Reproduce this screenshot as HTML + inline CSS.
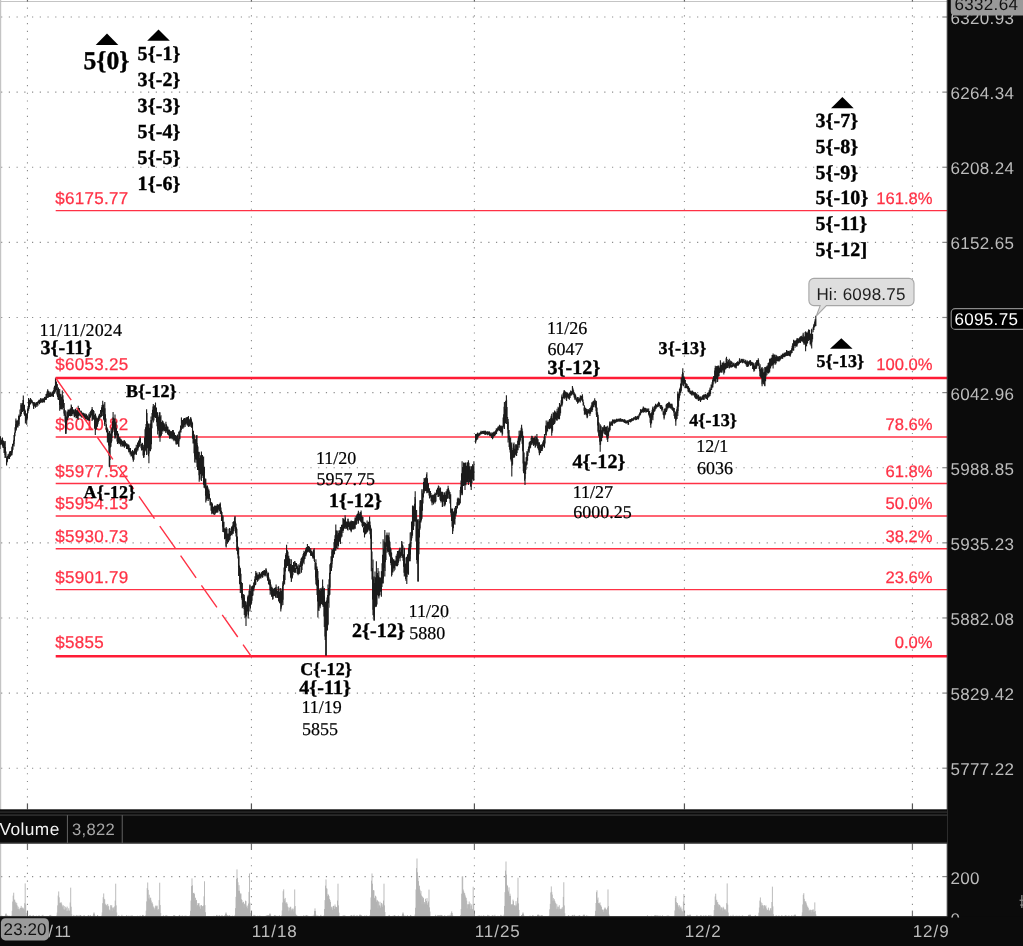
<!DOCTYPE html>
<html lang="en"><head><meta charset="utf-8"><title>Chart</title><style>html,body{margin:0;padding:0;background:#fff;overflow:hidden}body{width:1023px;height:946px}</style></head><body>
<svg width="1023" height="946" viewBox="0 0 1023 946" style="display:block;will-change:transform" text-rendering="geometricPrecision"><rect x="0" y="0" width="1023" height="946" fill="#fff"/>
<line x1="1.07" y1="17" x2="938.3" y2="17" stroke="#8c8c8c" stroke-width="1.1" stroke-dasharray="1.2 6.533" stroke-linecap="butt"/>
<line x1="1.07" y1="92.12" x2="938.3" y2="92.12" stroke="#8c8c8c" stroke-width="1.1" stroke-dasharray="1.2 6.533" stroke-linecap="butt"/>
<line x1="1.07" y1="167.24" x2="938.3" y2="167.24" stroke="#8c8c8c" stroke-width="1.1" stroke-dasharray="1.2 6.533" stroke-linecap="butt"/>
<line x1="1.07" y1="242.36" x2="938.3" y2="242.36" stroke="#8c8c8c" stroke-width="1.1" stroke-dasharray="1.2 6.533" stroke-linecap="butt"/>
<line x1="1.07" y1="317.48" x2="938.3" y2="317.48" stroke="#8c8c8c" stroke-width="1.1" stroke-dasharray="1.2 6.533" stroke-linecap="butt"/>
<line x1="1.07" y1="392.6" x2="938.3" y2="392.6" stroke="#8c8c8c" stroke-width="1.1" stroke-dasharray="1.2 6.533" stroke-linecap="butt"/>
<line x1="1.07" y1="467.72" x2="938.3" y2="467.72" stroke="#8c8c8c" stroke-width="1.1" stroke-dasharray="1.2 6.533" stroke-linecap="butt"/>
<line x1="1.07" y1="542.84" x2="938.3" y2="542.84" stroke="#8c8c8c" stroke-width="1.1" stroke-dasharray="1.2 6.533" stroke-linecap="butt"/>
<line x1="1.07" y1="617.96" x2="938.3" y2="617.96" stroke="#8c8c8c" stroke-width="1.1" stroke-dasharray="1.2 6.533" stroke-linecap="butt"/>
<line x1="1.07" y1="693.08" x2="938.3" y2="693.08" stroke="#8c8c8c" stroke-width="1.1" stroke-dasharray="1.2 6.533" stroke-linecap="butt"/>
<line x1="1.07" y1="768.2" x2="938.3" y2="768.2" stroke="#8c8c8c" stroke-width="1.1" stroke-dasharray="1.2 6.533" stroke-linecap="butt"/>
<line x1="27.45" y1="7.6" x2="27.45" y2="803" stroke="#8c8c8c" stroke-width="1.1" stroke-dasharray="1.2 6.533" stroke-linecap="butt"/>
<line x1="27.45" y1="857.4" x2="27.45" y2="910" stroke="#8c8c8c" stroke-width="1.1" stroke-dasharray="1.2 6.533" stroke-linecap="butt"/>
<line x1="251.43" y1="7.6" x2="251.43" y2="803" stroke="#8c8c8c" stroke-width="1.1" stroke-dasharray="1.2 6.533" stroke-linecap="butt"/>
<line x1="251.43" y1="857.4" x2="251.43" y2="910" stroke="#8c8c8c" stroke-width="1.1" stroke-dasharray="1.2 6.533" stroke-linecap="butt"/>
<line x1="474.4" y1="7.6" x2="474.4" y2="803" stroke="#8c8c8c" stroke-width="1.1" stroke-dasharray="1.2 6.533" stroke-linecap="butt"/>
<line x1="474.4" y1="857.4" x2="474.4" y2="910" stroke="#8c8c8c" stroke-width="1.1" stroke-dasharray="1.2 6.533" stroke-linecap="butt"/>
<line x1="684.43" y1="7.6" x2="684.43" y2="803" stroke="#8c8c8c" stroke-width="1.1" stroke-dasharray="1.2 6.533" stroke-linecap="butt"/>
<line x1="684.43" y1="857.4" x2="684.43" y2="910" stroke="#8c8c8c" stroke-width="1.1" stroke-dasharray="1.2 6.533" stroke-linecap="butt"/>
<line x1="912.43" y1="7.6" x2="912.43" y2="803" stroke="#8c8c8c" stroke-width="1.1" stroke-dasharray="1.2 6.533" stroke-linecap="butt"/>
<line x1="912.43" y1="857.4" x2="912.43" y2="910" stroke="#8c8c8c" stroke-width="1.1" stroke-dasharray="1.2 6.533" stroke-linecap="butt"/>
<line x1="1.07" y1="876.6" x2="938.3" y2="876.6" stroke="#8c8c8c" stroke-width="1.1" stroke-dasharray="1.2 6.533" stroke-linecap="butt"/>
<rect x="0" y="1" width="947.3" height="1" fill="#c4c4c4"/>
<rect x="0" y="0" width="1.2" height="917" fill="#c4c4c4"/>
<rect x="26.85" y="0" width="1.2" height="1.6" fill="#666"/>
<rect x="26.85" y="803.4" width="1.2" height="6" fill="#555"/>
<rect x="26.85" y="843.5" width="1.2" height="6.5" fill="#777"/>
<rect x="26.85" y="910.6" width="1.2" height="6" fill="#777"/>
<rect x="250.83" y="0" width="1.2" height="1.6" fill="#666"/>
<rect x="250.83" y="803.4" width="1.2" height="6" fill="#555"/>
<rect x="250.83" y="843.5" width="1.2" height="6.5" fill="#777"/>
<rect x="250.83" y="910.6" width="1.2" height="6" fill="#777"/>
<rect x="473.8" y="0" width="1.2" height="1.6" fill="#666"/>
<rect x="473.8" y="803.4" width="1.2" height="6" fill="#555"/>
<rect x="473.8" y="843.5" width="1.2" height="6.5" fill="#777"/>
<rect x="473.8" y="910.6" width="1.2" height="6" fill="#777"/>
<rect x="683.83" y="0" width="1.2" height="1.6" fill="#666"/>
<rect x="683.83" y="803.4" width="1.2" height="6" fill="#555"/>
<rect x="683.83" y="843.5" width="1.2" height="6.5" fill="#777"/>
<rect x="683.83" y="910.6" width="1.2" height="6" fill="#777"/>
<rect x="911.83" y="0" width="1.2" height="1.6" fill="#666"/>
<rect x="911.83" y="803.4" width="1.2" height="6" fill="#555"/>
<rect x="911.83" y="843.5" width="1.2" height="6.5" fill="#777"/>
<rect x="911.83" y="910.6" width="1.2" height="6" fill="#777"/>
<rect x="942.3" y="16.4" width="5" height="1.2" fill="#888"/>
<rect x="942.3" y="91.52" width="5" height="1.2" fill="#888"/>
<rect x="942.3" y="166.64" width="5" height="1.2" fill="#888"/>
<rect x="942.3" y="241.76" width="5" height="1.2" fill="#888"/>
<rect x="942.3" y="316.88" width="5" height="1.2" fill="#888"/>
<rect x="942.3" y="392" width="5" height="1.2" fill="#888"/>
<rect x="942.3" y="467.12" width="5" height="1.2" fill="#888"/>
<rect x="942.3" y="542.24" width="5" height="1.2" fill="#888"/>
<rect x="942.3" y="617.36" width="5" height="1.2" fill="#888"/>
<rect x="942.3" y="692.48" width="5" height="1.2" fill="#888"/>
<rect x="942.3" y="767.6" width="5" height="1.2" fill="#888"/>
<rect x="942.3" y="876" width="5" height="1.2" fill="#888"/>
<line x1="55.7" y1="210.6" x2="947.3" y2="210.6" stroke="#ff3145" stroke-width="1.4"/>
<text x="55.2" y="203.8" font-family="'Liberation Sans', sans-serif" font-size="17" font-weight="normal" fill="#ff3145" text-anchor="start" stroke="#ff3145" stroke-width="0.25" letter-spacing="0.3">$6175.77</text>
<text x="932.6" y="203.8" font-family="'Liberation Sans', sans-serif" font-size="16.6" font-weight="normal" fill="#ff3145" text-anchor="end" stroke="#ff3145" stroke-width="0.25">161.8%</text>
<line x1="55.7" y1="378" x2="947.3" y2="378" stroke="#ff1c36" stroke-width="2.6"/>
<text x="55.2" y="369.5" font-family="'Liberation Sans', sans-serif" font-size="17" font-weight="normal" fill="#ff3145" text-anchor="start" stroke="#ff3145" stroke-width="0.25" letter-spacing="0.3">$6053.25</text>
<text x="932.6" y="369.5" font-family="'Liberation Sans', sans-serif" font-size="16.6" font-weight="normal" fill="#ff3145" text-anchor="end" stroke="#ff3145" stroke-width="0.25">100.0%</text>
<line x1="55.7" y1="437" x2="947.3" y2="437" stroke="#ff3145" stroke-width="1.4"/>
<text x="55.2" y="430.2" font-family="'Liberation Sans', sans-serif" font-size="17" font-weight="normal" fill="#ff3145" text-anchor="start" stroke="#ff3145" stroke-width="0.25" letter-spacing="0.3">$6010.82</text>
<text x="932.6" y="430.2" font-family="'Liberation Sans', sans-serif" font-size="16.6" font-weight="normal" fill="#ff3145" text-anchor="end" stroke="#ff3145" stroke-width="0.25">78.6%</text>
<line x1="55.7" y1="483.5" x2="947.3" y2="483.5" stroke="#ff3145" stroke-width="1.4"/>
<text x="55.2" y="476.7" font-family="'Liberation Sans', sans-serif" font-size="17" font-weight="normal" fill="#ff3145" text-anchor="start" stroke="#ff3145" stroke-width="0.25" letter-spacing="0.3">$5977.52</text>
<text x="932.6" y="476.7" font-family="'Liberation Sans', sans-serif" font-size="16.6" font-weight="normal" fill="#ff3145" text-anchor="end" stroke="#ff3145" stroke-width="0.25">61.8%</text>
<line x1="55.7" y1="516" x2="947.3" y2="516" stroke="#ff3145" stroke-width="1.4"/>
<text x="55.2" y="509.2" font-family="'Liberation Sans', sans-serif" font-size="17" font-weight="normal" fill="#ff3145" text-anchor="start" stroke="#ff3145" stroke-width="0.25" letter-spacing="0.3">$5954.13</text>
<text x="932.6" y="509.2" font-family="'Liberation Sans', sans-serif" font-size="16.6" font-weight="normal" fill="#ff3145" text-anchor="end" stroke="#ff3145" stroke-width="0.25">50.0%</text>
<line x1="55.7" y1="548.8" x2="947.3" y2="548.8" stroke="#ff3145" stroke-width="1.4"/>
<text x="55.2" y="542" font-family="'Liberation Sans', sans-serif" font-size="17" font-weight="normal" fill="#ff3145" text-anchor="start" stroke="#ff3145" stroke-width="0.25" letter-spacing="0.3">$5930.73</text>
<text x="932.6" y="542" font-family="'Liberation Sans', sans-serif" font-size="16.6" font-weight="normal" fill="#ff3145" text-anchor="end" stroke="#ff3145" stroke-width="0.25">38.2%</text>
<line x1="55.7" y1="589.6" x2="947.3" y2="589.6" stroke="#ff3145" stroke-width="1.4"/>
<text x="55.2" y="582.8" font-family="'Liberation Sans', sans-serif" font-size="17" font-weight="normal" fill="#ff3145" text-anchor="start" stroke="#ff3145" stroke-width="0.25" letter-spacing="0.3">$5901.79</text>
<text x="932.6" y="582.8" font-family="'Liberation Sans', sans-serif" font-size="16.6" font-weight="normal" fill="#ff3145" text-anchor="end" stroke="#ff3145" stroke-width="0.25">23.6%</text>
<line x1="55.7" y1="656.3" x2="947.3" y2="656.3" stroke="#ff1c36" stroke-width="2.6"/>
<text x="55.2" y="647.8" font-family="'Liberation Sans', sans-serif" font-size="17" font-weight="normal" fill="#ff3145" text-anchor="start" stroke="#ff3145" stroke-width="0.25" letter-spacing="0.3">$5855</text>
<text x="932.6" y="647.8" font-family="'Liberation Sans', sans-serif" font-size="16.6" font-weight="normal" fill="#ff3145" text-anchor="end" stroke="#ff3145" stroke-width="0.25">0.0%</text>
<path d="M0 436.96V443.58M0.5 436.6V444.63M1 438.23V445.12M1.5 440.18V444.26M2 439.82V443.49M2.5 437.99V441.48M3 442.07V447.91M3.5 440.48V445.54M4 444.18V453.11M4.5 442.59V452.2M5 441.15V454.91M5.5 446.9V457.82M6 451.56V456.65M6.5 459.45V464.17M7 458.72V462.57M7.5 456.11V461.64M8 454.34V459.37M8.5 454.27V457.36M9 453.46V458.67M9.5 453.68V457.46M10 451.49V455.91M10.5 451.01V456.85M11 450.97V454.91M11.5 450.43V455.61M12 447.18V453.37M12.5 443.76V451.49M13 444.14V449.75M13.5 440.85V445.49M14 439.74V444.05M14.5 432.59V440.91M15 427.21V436.34M15.5 424.31V432.65M16 420.5V428.31M16.5 420.69V429.86M17 420.51V427.51M17.5 421.61V426.24M18 419.85V427.59M18.5 416.09V424.64M19 418.13V424.25M19.5 415.13V419.5M20 409.6V414.94M20.5 411.83V416.71M21 404.87V410.32M21.5 406.8V414.07M22 403.56V409.1M22.5 403.11V411.96M23 399.96V410.94M23.5 400.23V407.53M24 406.7V414.24M24.5 404.7V415.73M25 409.61V415.42M25.5 414.25V420.14M26 413.17V420.81M26.5 416.1V420.3M27 414.06V420.22M27.5 408.58V418.16M28 405.94V413.32M28.5 399.04V407.58M29 400.02V408.9M29.5 399.86V407.34M30 399.5V403.9M30.5 400.44V403.09M31 398.9V401.45M31.5 399.84V402.87M32 400.05V403.52M32.5 401.16V403.61M33 402.61V405.41M33.5 405.58V408.17M34 402.36V406.74M34.5 403.18V406.28M35 402.36V405.62M35.5 403.46V407.86M36 403.15V406.34M36.5 402.27V404.47M37 402.53V405.12M37.5 401.58V405.28M38 403.66V405.86M38.5 400.61V403.62M39 399.84V402.89M39.5 401.21V404.22M40 399.58V403.37M40.5 399.16V401.56M41 400.11V402.32M41.5 399.35V402.47M42 398.19V400.88M42.5 398.88V402.79M43 398.42V402.5M43.5 398.27V402.33M44 398.6V401.2M44.5 396.98V399.96M45 396.78V399.09M45.5 396.9V400.09M46 393.93V399.65M46.5 393.66V399.71M47 391.48V397.97M47.5 390.73V394.7M48 390.4V394.2M48.5 392.36V397.44M49 391.17V396.58M49.5 392.52V396.91M50 393.53V395.95M50.5 392.49V396.74M51 392.43V396.1M51.5 393.85V396.26M52 393.42V396.35M52.5 391.4V396.21M53 393.37V396.75M53.5 390.25V394.94M54 387.62V391.21M54.5 385.72V393.78M55 386.59V391.8M55.5 379.54V390.89M56 383.12V390.04M56.5 381.55V386.84M57 384.76V394.35M57.5 389.36V397.09M58 391.31V399.62M58.5 387.53V400.04M59 390.51V399.52M59.5 395.11V404.99M60 393.86V404.16M60.5 400.52V409.34M61 394.22V404.91M61.5 396.74V409.26M62 398.28V409.03M62.5 395.83V406.74M63 395.23V405.36M63.5 399.62V408.19M64 408.64V413.58M64.5 408.41V414.93M65 409.96V422.41M65.5 414.68V425.41M66 417.21V430.52M66.5 416.53V424.07M67 412.37V419.61M67.5 411.62V420.26M68 412.18V417.68M68.5 409.71V416.97M69 409.77V416M69.5 410.04V416.07M70 408.84V414.82M70.5 409.94V416.28M71 407.98V415.71M71.5 405.59V414.41M72 409.6V416.08M72.5 406.98V414.34M73 409.85V413.69M73.5 409.54V412.93M74 412.34V415.49M74.5 411.39V417.1M75 412.46V416.24M75.5 408.86V415.21M76 410.25V418.21M76.5 413.16V418.32M77 409.58V416.11M77.5 408.38V418.85M78 409.24V415.17M78.5 408.01V415.93M79 409.13V414.54M79.5 407.9V415.39M80 410.29V416.18M80.5 411.23V414.31M81 411.6V416.21M81.5 414.78V417.27M82 413V417.61M82.5 412.62V415.22M83 415.04V417.45M83.5 412.73V415.8M84 415.22V418.73M84.5 413.42V418.07M85 416.64V419.34M85.5 415.1V419.11M86 413.63V416.27M86.5 414.33V418.91M87 417.35V420.07M87.5 415.38V420.01M88 417.14V420.04M88.5 417.31V420.21M89 414.51V418.83M89.5 415.45V420.76M90 411.98V416.65M90.5 411.32V417.76M91 410.39V415.2M91.5 409.83V414.72M92 409.3V416.24M92.5 409.06V419.66M93 409.98V419.5M93.5 409.95V418.95M94 410.95V419.75M94.5 415.09V428.82M95 418.28V427.62M95.5 413.93V430.36M96 415.76V429.61M96.5 419.56V429.43M97 417.38V425.38M97.5 418.16V426.82M98 418.59V424.18M98.5 416.17V422.2M99 415.64V419.35M99.5 413.65V416.49M100 415.01V418.39M100.5 410.04V414.74M101 412.88V417.3M101.5 407.31V416.69M102 405.08V411.72M102.5 404.91V412.23M103 405.07V412.23M103.5 410.49V419.44M104 403.68V420.39M104.5 413.41V424.16M105 408.17V419.84M105.5 414.36V422.04M106 418.39V429.6M106.5 424.22V432.12M107 427.13V432.75M107.5 432.31V438.34M108 429.57V437.23M108.5 432.81V445.49M109 436.42V455.63M109.5 437.92V463.1M110 438.67V460.02M110.5 433.38V447.51M111 429.25V446.72M111.5 431.17V442.78M112 432.44V437.88M112.5 421.32V433.15M113 417.21V428.65M113.5 418.04V425.76M114 420.11V432.07M114.5 418.87V435.08M115 422.62V437.84M115.5 422.84V437.63M116 421.49V430.65M116.5 428.08V435.41M117 435.22V441.41M117.5 434.1V442.06M118 435.11V442.93M118.5 433.45V440.03M119 436.78V444.36M119.5 437.97V443.64M120 437.29V443.1M120.5 438.91V444.46M121 440.14V443.13M121.5 439.6V444.85M122 441.53V446.8M122.5 440.71V445.12M123 441.88V446.22M123.5 441.25V446.56M124 440.34V445.2M124.5 441.48V444.64M125 441.57V446.77M125.5 441.43V446.03M126 443.12V445.99M126.5 444.09V449.05M127 443.61V448.57M127.5 444.78V449.21M128 444.27V448.52M128.5 444.74V450.44M129 446.27V452.33M129.5 447.9V450.81M130 448.39V454.53M130.5 447.96V452.92M131 452.33V456.51M131.5 451.31V455.69M132 451.97V456.23M132.5 449.91V458.23M133 451.75V459.75M133.5 452.11V460.59M134 454.55V459.64M134.5 448.45V454.74M135 450.7V454.55M135.5 447.75V453.71M136 447.44V451.85M136.5 448.62V453.81M137 448.13V451.8M137.5 442.45V449.96M138 442.55V450.4M138.5 440.57V448.23M139 440.62V445.82M139.5 438.74V446.68M140 438.55V443.6M140.5 437.96V442.87M141 444.05V448.35M141.5 445.19V450.62M142 442.64V448.12M142.5 443.07V450.23M143 448.85V455.51M143.5 446.82V456.79M144 446.42V457.2M144.5 437.51V455.12M145 429.27V448.52M145.5 427.28V450.62M146 423.97V451.61M146.5 411.54V433.55M147 412.99V448.18M147.5 421.29V446.29M148 433.78V454.59M148.5 423.44V456.16M149 427.63V453.44M149.5 427.65V450.75M150 423.57V439.28M150.5 435.6V451.28M151 419.91V439.28M151.5 420.99V444.34M152 413.07V428.31M152.5 409.77V420.39M153 406.62V417.23M153.5 406.38V414.99M154 409.45V420.39M154.5 405.29V417.17M155 406.72V415.6M155.5 405.03V413.24M156 407.66V414.24M156.5 407.42V422.3M157 414.3V426.15M157.5 412.46V428.8M158 415.17V426.39M158.5 417.24V430.71M159 416.7V437.78M159.5 412.35V433.66M160 425.33V436.42M160.5 416.55V436.85M161 415.24V429.72M161.5 425.14V435.76M162 421.91V434.01M162.5 420.41V430.94M163 421.98V426.25M163.5 424.03V430.36M164 422.88V431.34M164.5 424.25V431.33M165 424.14V430.35M165.5 427.05V431.21M166 427.43V432.59M166.5 424.25V431.29M167 425.76V430.12M167.5 427.8V434.39M168 426.86V430.89M168.5 429.77V435.47M169 429.62V434.56M169.5 429.81V435.45M170 432.07V436.54M170.5 431.17V438.52M171 431.04V438.22M171.5 431.26V435.74M172 431.36V439.2M172.5 430.11V435.11M173 432.82V438.82M173.5 431.58V437.22M174 434.49V441.14M174.5 432.62V437.13M175 435.39V440.28M175.5 435.07V441.3M176 437.31V443.85M176.5 436.21V441.92M177 435.22V444M177.5 434.47V443.41M178 438.37V444.54M178.5 439.08V446.32M179 432.03V441.14M179.5 431.37V438.26M180 429.76V439.28M180.5 425.52V431.37M181 426.55V432.54M181.5 417.79V423.11M182 420.39V425.05M182.5 419.89V428.8M183 421V428.69M183.5 418.48V426.8M184 423.05V427.53M184.5 417.99V424.73M185 419.14V425.19M185.5 419.18V424.11M186 417.44V421.63M186.5 418.89V423.72M187 417.04V425.21M187.5 416.9V425.36M188 420.4V426.08M188.5 417.21V425.36M189 419.39V423.5M189.5 421.04V426.61M190 418.87V423.43M190.5 417.18V424.82M191 420.92V426.19M191.5 419.27V427.68M192 421.41V426.68M192.5 423.5V436.19M193 430.41V443.62M193.5 431.05V442.06M194 434V453.13M194.5 443.73V456.45M195 438.83V453.03M195.5 449.02V459.53M196 439.16V462.64M196.5 435.16V459.78M197 443.1V458.06M197.5 444.91V470.07M198 446.4V463.03M198.5 453.35V470.29M199 451.8V475.26M199.5 458.01V479.59M200 457.89V479.75M200.5 455.23V474.15M201 456.83V471.83M201.5 452.29V473.55M202 464.89V478.05M202.5 454.98V468.65M203 465.02V475.73M203.5 469.9V484.26M204 466.94V487.86M204.5 466.83V479.5M205 478.24V488.47M205.5 479.18V495.86M206 484.58V495.29M206.5 486.23V499.73M207 487.71V501.04M207.5 485.38V496.67M208 487.54V498.72M208.5 490V498.06M209 490.79V499.05M209.5 493.83V499.42M210 500.46V505.54M210.5 498.18V505.56M211 504.31V510.71M211.5 502.28V509.28M212 504.74V513.27M212.5 503.41V512.61M213 507.46V513.76M213.5 506.63V514.48M214 506.55V510.38M214.5 506.28V510.33M215 506.33V514.02M215.5 505.77V513.16M216 505.8V512.82M216.5 508.25V512.63M217 504.52V511.67M217.5 506.1V511.72M218 505.65V509.86M218.5 504.68V508.81M219 506.48V511.39M219.5 503.71V510.89M220 505.05V509.24M220.5 504.26V512.46M221 507.39V514.04M221.5 510.73V521.04M222 512.08V517.99M222.5 517.76V526.54M223 516.43V527.56M223.5 524.52V532.15M224 521.68V531.59M224.5 529.94V539.27M225 528.21V537.85M225.5 528.47V538.77M226 531.18V546.48M226.5 528.93V539.32M227 528.39V541.29M227.5 537.39V543.71M228 533.47V542.5M228.5 533.73V542M229 528.8V536.79M229.5 532.45V537.16M230 531.22V539.41M230.5 531.03V536M231 528.44V534.95M231.5 526.62V531.81M232 528.22V535.44M232.5 526.33V531.22M233 525.08V533.69M233.5 521.34V526.77M234 521.47V531.24M234.5 517.78V525.08M235 517.06V527.12M235.5 521.48V533.27M236 523.47V536.48M236.5 527.34V541.76M237 538.46V550.63M237.5 536.51V554.5M238 546.49V558.57M238.5 550.65V567.53M239 556.19V567.78M239.5 565.53V584.15M240 573.16V582.96M240.5 569.5V587.42M241 573.78V592.64M241.5 581.89V597.97M242 583.34V599.75M242.5 590.54V604.26M243 593.92V607.01M243.5 594.23V606.84M244 601.13V608.93M244.5 597.53V609.7M245 602.46V618.13M245.5 601.29V614.57M246 602.61V616.76M246.5 606.04V616.23M247 604.79V614.49M247.5 597.26V611.5M248 596V611.51M248.5 598.63V615.57M249 590.5V605.53M249.5 591.02V606.54M250 585.43V606.48M250.5 590.94V608.61M251 590.76V605.02M251.5 595.66V603.52M252 591.76V600.76M252.5 585.39V595.88M253 587.1V595.41M253.5 585.41V589.14M254 582.12V588.44M254.5 579.37V587.27M255 576.2V584.67M255.5 577.61V585.19M256 572.95V578.99M256.5 572.79V580.12M257 572.62V576.95M257.5 577.07V581.67M258 574.43V580.97M258.5 575.61V579.48M259 574.32V577.61M259.5 572.76V577.68M260 572.67V578.31M260.5 573.96V578.53M261 575.64V578.57M261.5 572.27V576.85M262 571.66V576.71M262.5 571.75V577.32M263 573.2V576.82M263.5 570.88V574.81M264 570.07V575.05M264.5 570.08V575.38M265 571.72V576.49M265.5 570.69V575.34M266 568.51V572.29M266.5 570.12V573.27M267 571.61V577.57M267.5 574.69V580.73M268 573.31V577.95M268.5 572.79V580.65M269 577.62V582.27M269.5 579.62V585.28M270 583.34V590.2M270.5 581.63V590.97M271 584.59V593.72M271.5 591.19V596.86M272 586.63V592.64M272.5 591.91V596.79M273 589.93V599.02M273.5 588.66V595.3M274 591.78V596.31M274.5 587.89V595.71M275 587.66V596.12M275.5 587.21V597.59M276 591.04V597.38M276.5 589.38V594.59M277 586.73V594.41M277.5 592.43V598.01M278 591.05V596.45M278.5 586.68V598.67M279 592.19V599.74M279.5 591.86V602.91M280 588.34V603.42M280.5 591.12V602.4M281 600.32V609.35M281.5 590.46V607.48M282 596.84V605.43M282.5 585.77V602.41M283 583.12V599.81M283.5 574.81V586.08M284 567.48V579.06M284.5 569.71V582.72M285 563.06V579.99M285.5 554.74V571.42M286 553.09V567.63M286.5 548.86V565.5M287 553.95V564.31M287.5 550.14V566.02M288 551.86V565.63M288.5 556.3V564.09M289 560.52V571.62M289.5 558.43V570.62M290 558.89V573.3M290.5 567.91V577.48M291 564.1V578.33M291.5 566.54V581.3M292 566.86V578.69M292.5 564.98V577.86M293 565.55V575.26M293.5 562.12V571.88M294 565.3V571.74M294.5 567.65V572.58M295 561.38V566.38M295.5 568.07V572.82M296 562.98V568.95M296.5 563V567.24M297 565.49V573.13M297.5 566.32V573.9M298 568.17V572.47M298.5 567.94V574M299 565.34V574.27M299.5 568.23V573.2M300 563.26V573.68M300.5 561.2V566.91M301 558.8V564.8M301.5 560.59V571.99M302 560.42V570.11M302.5 556.24V565.71M303 554.25V560.03M303.5 552.89V562.75M304 553.54V560.43M304.5 551.79V556.54M305 553.14V559.05M305.5 549.45V555.44M306 547.8V556.27M306.5 547.27V554.62M307 547.12V550.49M307.5 546.97V551.66M308 547.54V551.83M308.5 546.05V551M309 546.15V552.22M309.5 546.95V552.78M310 548.22V551.03M310.5 550V555.45M311 550.67V553.53M311.5 551.05V556.12M312 550.78V554.96M312.5 552.26V557.53M313 553.55V558.78M313.5 549.47V555.19M314 550.17V558.62M314.5 555.75V561.88M315 562.25V569.67M315.5 562.24V577.5M316 563.09V580.26M316.5 568.44V585.72M317 566.42V594.9M317.5 568.89V601.39M318 578.27V598.88M318.5 580.08V610.54M319 593.22V611.05M319.5 590.08V602.88M320 593.61V606.55M320.5 590.63V605.49M321 588.4V599.88M321.5 594.32V604.29M322 587.55V603.6M322.5 586.05V597.09M323 586.2V606.66M323.5 592.75V606.36M324 588.52V616.54M324.5 596.36V614.58M325 605.61V636.44M325.5 601.93V623.29M326 610.78V636.37M326.5 600.53V630.93M327 597.43V621.59M327.5 594.96V630.49M328 607.78V624.29M328.5 587.9V603.32M329 579.16V607.79M329.5 572.86V595.55M330 573.99V587.42M330.5 562.99V573.99M331 556.26V569.17M331.5 559.66V571.09M332 551.59V564.2M332.5 549.56V561.21M333 550.7V558.02M333.5 548.35V557.39M334 542.36V554.7M334.5 543.18V552.67M335 535.34V546.1M335.5 534.23V550.61M336 530.15V548.36M336.5 530.53V548.24M337 531.43V545.6M337.5 535.67V545.62M338 534.75V542.23M338.5 533.11V546.19M339 530.4V542M339.5 531.73V541.47M340 530.02V541.16M340.5 531.82V543.17M341 530.85V538.19M341.5 524.81V536.38M342 527.59V536.79M342.5 524.62V530.41M343 524.48V530.96M343.5 518.81V530.4M344 521.48V527.29M344.5 519.89V528.4M345 518.86V527M345.5 517.47V527.37M346 521.83V528.99M346.5 521.58V527.39M347 521.78V528.49M347.5 524.97V530.01M348 518.92V525.1M348.5 521.3V527.04M349 522.29V526.61M349.5 523.12V529.65M350 521.22V527.38M350.5 524.7V530.17M351 521.58V530.93M351.5 525.25V530.68M352 520.91V527.25M352.5 524.65V529.55M353 520.96V529.5M353.5 521.35V528.04M354 524.17V529.54M354.5 521.32V527.34M355 519.87V528.34M355.5 517.89V524.64M356 516.04V523.35M356.5 515.59V524.64M357 514.34V523.64M357.5 514.04V520.76M358 512.63V519.76M358.5 516.76V521.44M359 512.31V518.55M359.5 513.65V519.91M360 514.05V520.93M360.5 511.97V520.03M361 512.59V521.99M361.5 518.04V522.79M362 515.79V525.71M362.5 521.64V527.27M363 517.12V526.07M363.5 527.4V532.59M364 521.79V531.53M364.5 523.59V529.77M365 527.99V534.79M365.5 522.67V529.88M366 523.67V533.94M366.5 527.3V532.81M367 524.02V531.66M367.5 523.55V531.7M368 522.04V531.22M368.5 523.27V529.22M369 521.43V529.71M369.5 522.06V530.04M370 521.49V534.34M370.5 525.23V538.85M371 527.68V549.6M371.5 535.28V560.51M372 551.43V579.48M372.5 568.05V599.57M373 589.38V609.64M373.5 578.7V607.97M374 586.49V617.1M374.5 582.99V606.53M375 571.54V607.29M375.5 577.34V606.69M376 581.28V598.19M376.5 575.23V605.46M377 583.34V604.42M377.5 573V595.28M378 567.92V594.02M378.5 575.5V596.26M379 582.58V596.52M379.5 577.27V591.38M380 579.39V595.24M380.5 577.45V589.33M381 577.64V591.87M381.5 571.43V591.04M382 563.32V586.99M382.5 554.68V576.83M383 558.12V583.56M383.5 548.98V578.46M384 541.29V564.5M384.5 545.11V568.03M385 542.17V570.93M385.5 547.84V562.28M386 535.35V560.07M386.5 536.7V546.75M387 534.86V542.22M387.5 535.13V551.37M388 538.03V552.04M388.5 535.32V552.12M389 537.31V551.47M389.5 540.56V555.75M390 541.78V557.03M390.5 547.62V562.94M391 548.7V565.27M391.5 552.41V562.89M392 559.44V575.05M392.5 557.57V570.42M393 560.01V572.59M393.5 559.31V568.38M394 561.82V567.95M394.5 561.1V567.28M395 561.35V569.69M395.5 560.62V565.72M396 555.77V560.97M396.5 555.69V566.15M397 553.69V565.26M397.5 554.75V560.36M398 555.49V564.94M398.5 550.99V562.82M399 549.67V557.49M399.5 549.37V558.47M400 547.82V553.62M400.5 551.81V556.88M401 551.88V557.92M401.5 549.52V555.53M402 541.86V548.88M402.5 544.44V557.81M403 545.54V560.85M403.5 557.33V566.73M404 554.15V572.83M404.5 549.24V569.07M405 557.5V575.67M405.5 563.53V579.25M406 568.19V581.06M406.5 556.68V574.96M407 567.45V577.09M407.5 554.2V573.72M408 560.37V573.84M408.5 560.8V572.58M409 543.89V559.95M409.5 546.3V561.14M410 542.68V558.74M410.5 542.14V554.52M411 531.96V547.44M411.5 521.49V540.79M412 522.2V538.35M412.5 510.3V534.46M413 506.15V524.99M413.5 518.23V529.98M414 505.48V526.15M414.5 503.86V519.34M415 497.11V521.5M415.5 499.16V521.04M416 518.3V541.4M416.5 524.19V550.1M417 529.74V563.72M417.5 519.72V561.82M418 528.69V550.97M418.5 529.19V559.83M419 520.38V554.28M419.5 523.45V537.47M420 506.51V528.23M420.5 500.06V518.54M421 500.29V522.61M421.5 500.5V520.58M422 490.22V505.7M422.5 494.48V510.69M423 493.19V503.57M423.5 482.11V497.5M424 482.46V492.74M424.5 478.6V487.91M425 482.9V491.13M425.5 477.41V490.63M426 483.38V491.1M426.5 474.37V488.88M427 479.74V492.7M427.5 478.15V492.43M428 483.07V492.64M428.5 483.58V490.04M429 489.96V495.44M429.5 490.95V496.38M430 491.95V497.55M430.5 491.12V495.51M431 492.88V501.26M431.5 497.33V501.51M432 495.28V502.65M432.5 496.05V502.6M433 494.41V500.67M433.5 500.44V504.42M434 494.72V502.86M434.5 494.11V500.85M435 493.92V501.82M435.5 493.28V502.07M436 493.3V501.49M436.5 489.64V494.97M437 489.48V494.56M437.5 487.65V492.15M438 490.04V497.04M438.5 490.18V496.74M439 486.17V495.51M439.5 488.31V496.25M440 494.29V499.69M440.5 491.48V497.93M441 493.31V502.46M441.5 491.77V501.42M442 492.12V500.56M442.5 494.78V506.91M443 492.3V499.13M443.5 494.8V501.72M444 495.16V506.15M444.5 492.58V502.92M445 494.79V504.63M445.5 495.63V504.5M446 491.25V496.39M446.5 492.67V502M447 489.31V498.06M447.5 490.61V498.75M448 488.44V493.64M448.5 487.97V494.48M449 489.75V498.32M449.5 491.53V498.99M450 492.01V503.44M450.5 494.65V507.17M451 507.85V515.26M451.5 511.06V520.96M452 509.04V526.68M452.5 514.29V524.92M453 521.69V531.37M453.5 511.79V528.29M454 511.08V522.57M454.5 510.23V523.81M455 508.26V519.05M455.5 506.03V513.09M456 506.11V515.68M456.5 508.11V513.47M457 502.37V507.77M457.5 499.77V504.19M458 497.6V505.7M458.5 498.33V503.35M459 499.04V505.16M459.5 499.44V504.69M460 497.94V503.1M460.5 486.63V497.84M461 480.53V493.35M461.5 473.18V486.3M462 478.04V495.31M462.5 466.94V493.86M463 467.19V480.03M463.5 462.42V486.03M464 464.95V485.37M464.5 462.69V485.58M465 465.38V485.2M465.5 462.55V473.89M466 465.71V485.29M466.5 468.03V479.61M467 462.6V482.58M467.5 462.3V478.04M468 471.29V482.32M468.5 462.03V478.91M469 462.87V472.55M469.5 466.98V482.5M470 466.28V477.98M470.5 470.87V486.22M471 469.57V486.99M471.5 466.56V477.05M472 467.53V483M472.5 464.21V478.91M473 464.72V479.6M473.5 466.18V480.65M475.6 434.16V439.62M476.1 434.61V441.39M476.6 433.81V439.98M477.1 436.35V439.7M477.6 433.01V436.67M478.1 433.98V437.37M478.6 433.85V436.05M479.1 432.88V435.91M479.6 433.35V435.55M480.1 432.15V435.34M480.6 432.11V434.31M481.1 431.71V433.91M481.6 432.17V434.37M482.1 431.06V433.96M482.6 431.5V433.73M483.1 430.73V433.06M483.6 430.87V434.05M484.1 430.73V432.93M484.6 432.37V434.57M485.1 430.65V432.85M485.6 431.03V433.96M486.1 432.18V434.38M486.6 431.82V434.48M487.1 431.22V434.13M487.6 431.92V435.15M488.1 431.33V433.53M488.6 432.28V434.76M489.1 431.71V433.91M489.6 431.89V434.24M490.1 433.25V436.24M490.6 433.58V435.79M491.1 432.3V436.23M491.6 433.63V438.08M492.1 433.54V437.02M492.6 433.19V438.25M493.1 434.61V438.22M493.6 431.81V436.5M494.1 431.77V434.79M494.6 432.8V436.33M495.1 431.05V435.56M495.6 430.34V434.79M496.1 430.31V432.6M496.6 428.99V433.71M497.1 428.68V431.48M497.6 427.61V431.45M498.1 426.51V430.07M498.6 427.14V430.44M499.1 425.82V428.02M499.6 425.69V430.44M500.1 425.86V431.17M500.6 426.93V432.43M501.1 425.39V431.77M501.6 426.33V432.31M502.1 426.56V433.24M502.6 426.15V434.17M503.1 417.51V428.5M503.6 414.24V426.74M504.1 406.67V426.36M504.6 410.11V423.71M505.1 409.22V420.7M505.6 400.81V423.27M506.1 403.09V416.89M506.6 399.64V416.72M507.1 407V418.14M507.6 417.1V429.58M508.1 421.83V433.5M508.6 430.27V439.63M509.1 429.9V447.08M509.6 435.63V449.74M510.1 442.47V452.58M510.6 442.66V455.24M511.1 444.15V461.42M511.6 445.58V461.59M512.1 451.22V465.66M512.6 449.94V464.44M513.1 447.7V456.04M513.6 443.68V457.74M514.1 445.51V454.79M514.6 450.24V457.32M515.1 448.68V455.5M515.6 444.14V449.82M516.1 445.28V454.76M516.6 447.1V451.68M517.1 445.71V452.93M517.6 440.7V446.4M518.1 438.33V450.29M518.6 436.48V443.36M519.1 436.19V445.06M519.6 434.41V444.8M520.1 430.41V441.69M520.6 430.38V440.47M521.1 427.85V437.47M521.6 427.31V436.47M522.1 428.58V443.73M522.6 431.3V451.16M523.1 440.04V463.41M523.6 453.5V473.19M524.1 452.47V471.13M524.6 461.68V480.76M525.1 463.86V478.7M525.6 462.23V473.97M526.1 457.22V469.79M526.6 457.03V465.46M527.1 452.62V459.84M527.6 451.7V460.83M528.1 448.96V455.95M528.6 446.76V451.67M529.1 446.37V450.74M529.6 441.88V448.06M530.1 440.92V448.39M530.6 440.89V447.8M531.1 437.99V445.15M531.6 439.81V444.6M532.1 436.07V439.28M532.6 437.56V443.32M533.1 437.44V445.12M533.6 439.83V446.09M534.1 438.05V444.5M534.6 437.23V444.86M535.1 439.14V445.33M535.6 440.8V447M536.1 436.96V444.94M536.6 437.05V441.87M537.1 437.84V444.35M537.6 440.49V448.06M538.1 439.35V449.23M538.6 443.28V450.28M539.1 442.37V452.68M539.6 446.69V454.06M540.1 445.04V449.88M540.6 444.96V452.91M541.1 444.14V449.28M541.6 445.27V450.99M542.1 445.4V450.73M542.6 442.39V448.96M543.1 441.22V445.49M543.6 439.92V446.6M544.1 436.94V442.53M544.6 436.2V445.1M545.1 436.06V443.46M545.6 425.58V435.13M546.1 426.76V435.05M546.6 425.42V432.73M547.1 422.82V427.82M547.6 421.81V431.55M548.1 420.42V428.61M548.6 421.98V428.74M549.1 422.69V427.86M549.6 422.86V429.3M550.1 419.57V427.9M550.6 417.82V424.49M551.1 415.77V429.08M551.6 416.21V424.92M552.1 420.19V432.7M552.6 418.35V430.8M553.1 412.3V419.27M553.6 413.09V424.88M554.1 412.64V423.01M554.6 412.44V418.39M555.1 417.19V422.56M555.6 411.43V419.52M556.1 411.53V418.63M556.6 415.78V420.46M557.1 413.01V420.42M557.6 411.04V418.19M558.1 406.7V413.17M558.6 407.81V419.28M559.1 410.85V418.66M559.6 403.94V415.72M560.1 406.18V415.83M560.6 404.74V413.13M561.1 400.16V406.48M561.6 396.51V405.16M562.1 399.33V405.23M562.6 396.91V403.39M563.1 393.21V398.16M563.6 392.15V397.32M564.1 390.81V398.26M564.6 390.85V396.45M565.1 392.26V397.73M565.6 391.59V396.49M566.1 396.07V399.8M566.6 393.24V397.88M567.1 393.64V397.47M567.6 392.57V396.41M568.1 393.42V398.63M568.6 395.63V398.85M569.1 393.88V396.75M569.6 392.58V397.77M570.1 393.84V397.9M570.6 390.4V395.82M571.1 391.58V395.57M571.6 391.33V395.51M572.1 390.86V394.53M572.6 387.37V392.13M573.1 388.62V392.95M573.6 390.34V395.27M574.1 392.21V397.46M574.6 393.61V396.98M575.1 394.35V398.36M575.6 394.69V399.54M576.1 396.55V400.41M576.6 398.37V401.56M577.1 398.41V402.01M577.6 397.8V402.02M578.1 397.01V400.68M578.6 399.71V402.72M579.1 398.44V401.89M579.6 398.22V401.01M580.1 397.32V400.89M580.6 395.63V399.01M581.1 395.84V399.28M581.6 397.6V400.46M582.1 395.82V399.19M582.6 396.53V402.1M583.1 399.62V405.61M583.6 402.15V405.71M584.1 407.43V410.83M584.6 406.61V412.9M585.1 409V414.14M585.6 407.69V413.99M586.1 408.5V415.34M586.6 409V414.86M587.1 413.93V417.62M587.6 410.99V417.12M588.1 409.05V412.33M588.6 409.53V413.24M589.1 409.92V414.12M589.6 409.66V412.79M590.1 407.89V413.34M590.6 407.32V413.79M591.1 405.47V411.68M591.6 406.26V411.48M592.1 402.25V407.2M592.6 403.28V409.97M593.1 400.92V405.09M593.6 401.17V407.19M594.1 400.34V403.21M594.6 401.71V404.59M595.1 403.26V407.18M595.6 400.15V407.67M596.1 402.36V411.03M596.6 406.88V416.94M597.1 407.85V415.42M597.6 412.37V425.59M598.1 417.31V431.34M598.6 421.99V436.05M599.1 422.83V437.34M599.6 432.15V441.64M600.1 429.95V444.96M600.6 425.52V444.48M601.1 425.81V440M601.6 430.31V441.13M602.1 430.29V435.92M602.6 428V436.48M603.1 427.18V433.31M603.6 427.8V431.5M604.1 426.03V431.02M604.6 425.71V430.52M605.1 427.42V434.72M605.6 426.78V432.3M606.1 427.68V435.36M606.6 426.5V437.55M607.1 432.28V439.78M607.6 430.92V437.8M608.1 430.85V438.57M608.6 427.79V435.96M609.1 427.19V432.29M609.6 423.48V429.79M610.1 423.48V429.97M610.6 422.37V425.88M611.1 421.32V425.48M611.6 421.43V424.26M612.1 422.38V425.39M612.6 419.78V423.26M613.1 420.73V423.69M613.6 419.75V422.63M614.1 419.17V421.37M614.6 419.81V423.74M615.1 420.79V422.99M615.6 419.41V422.79M616.1 419.67V421.87M616.6 418.97V421.17M617.1 418.7V420.9M617.6 419.14V421.86M618.1 419.72V421.97M618.6 418.8V421.08M619.1 418.4V420.6M619.6 419.56V421.76M620.1 418.54V421.09M620.6 419.08V421.28M621.1 419.12V421.67M621.6 419.64V421.84M622.1 419.3V421.85M622.6 418.89V421.09M623.1 419.25V421.81M623.6 419.84V422.04M624.1 420.46V422.66M624.6 419.23V421.43M625.1 420.42V422.67M625.6 420.37V423.18M626.1 420.61V423.72M626.6 420.73V423.19M627.1 420.57V422.77M627.6 420.21V423.08M628.1 420.43V423.65M628.6 421.93V424.54M629.1 419.57V421.77M629.6 419.73V422.1M630.1 419.09V421.87M630.6 419.61V422.46M631.1 418.92V421.52M631.6 419.08V421.28M632.1 418.48V420.68M632.6 418.27V420.47M633.1 418.44V420.88M633.6 417.31V420.22M634.1 417.62V419.82M634.6 417.18V419.6M635.1 416.39V418.59M635.6 417.01V419.21M636.1 416.72V420.03M636.6 416.84V419.95M637.1 416.25V419.54M637.6 415.69V418.7M638.1 416.32V419.07M638.6 416.23V418.43M639.1 414.01V417.59M639.6 412.54V415.71M640.1 412.71V415.38M640.6 409.75V411.95M641.1 409.52V413.26M641.6 410.47V412.75M642.1 409.29V412.41M642.6 408.63V411.94M643.1 407.63V411.43M643.6 407.3V409.79M644.1 407.65V412.1M644.6 409.98V412.25M645.1 407.7V410.21M645.6 408.19V411.22M646.1 409.04V411.88M646.6 409.62V411.98M647.1 409.79V411.99M647.6 408.48V411.99M648.1 408.64V411.82M648.6 410.86V414.26M649.1 411.63V416.33M649.6 410.98V417.79M650.1 413.34V422.77M650.6 419.6V425.1M651.1 413.53V421.21M651.6 412.34V423.62M652.1 409.67V419.65M652.6 407.71V417.6M653.1 408.89V415.03M653.6 410.15V414.4M654.1 406.93V411.54M654.6 405.94V411.8M655.1 405.31V410.7M655.6 404.54V408.73M656.1 404.47V408.68M656.6 405.31V407.61M657.1 404.65V407.31M657.6 403.76V407.15M658.1 403.04V405.24M658.6 403.07V406.42M659.1 402.33V405.72M659.6 403.01V406.19M660.1 404.98V408.1M660.6 406.75V408.95M661.1 404.97V408.51M661.6 406.41V408.83M662.1 406.8V411.42M662.6 406.83V409.79M663.1 411.46V414.83M663.6 411.27V415.37M664.1 412.85V417.88M664.6 408.81V414.05M665.1 408.21V415.35M665.6 408.2V414.26M666.1 404.74V411.54M666.6 404.3V408.5M667.1 406.03V410.58M667.6 402.91V408.21M668.1 405.52V408.57M668.6 402.79V407.13M669.1 402.25V405.84M669.6 402.79V407.43M670.1 403.42V408.14M670.6 404.09V406.54M671.1 406.19V409.04M671.6 403.63V407.54M672.1 405.27V408.03M672.6 406.63V410.53M673.1 407.13V411.03M673.6 409.77V412.58M674.1 407.98V412.19M674.6 413.26V418.87M675.1 411.34V415.7M675.6 412.7V421.42M676.1 412.87V420.32M676.6 409.14V417.82M677.1 406.57V419.1M677.6 393.7V412.89M678.1 397.47V411.04M678.6 393.42V406.78M679.1 392.26V400.82M679.6 389.37V394.56M680.1 387.5V395.51M680.6 383.39V393.09M681.1 383.58V390.31M681.6 377.65V387.85M682.1 374.37V384.59M682.6 372.12V382.4M683.1 373.08V379.32M683.6 379.1V386.32M684.1 376.53V383.7M684.6 378.37V383.3M685.1 380.07V384.53M685.6 385.19V388.08M686.1 383.24V387.57M686.6 383.59V388.13M687.1 384V387.05M687.6 385.75V389.07M688.1 386.77V391.17M688.6 386.89V391.74M689.1 387.81V392.52M689.6 388.28V390.62M690.1 390.36V393.98M690.6 390.91V393.87M691.1 391.55V394.63M691.6 391.57V393.77M692.1 390.88V395M692.6 390.87V393.48M693.1 391.91V394.34M693.6 391.72V395.62M694.1 392.11V395.29M694.6 393.71V397.51M695.1 392.5V396.52M695.6 394.19V398.51M696.1 392.98V396.92M696.6 394.67V399.21M697.1 394.04V397.25M697.6 395.89V398.66M698.1 395.41V400.14M698.6 395.17V400M699.1 397.51V400.56M699.6 396.54V400.37M700.1 396.78V400.58M700.6 397.8V400M701.1 398.22V400.42M701.6 397.16V399.99M702.1 396.06V399.55M702.6 395.27V398.42M703.1 395.61V399.93M703.6 394.7V399.18M704.1 395.8V399.35M704.6 394.43V397.36M705.1 394.46V397.02M705.6 393.95V398.3M706.1 394.31V398.93M706.6 394.9V398.85M707.1 394.91V399.02M707.6 393.52V397.92M708.1 392.23V397.25M708.6 392.43V397.53M709.1 390.31V395.82M709.6 390.83V396.51M710.1 388.58V393.25M710.6 389.16V394.09M711.1 384.61V388.06M711.6 385.31V390.05M712.1 382.37V388.24M712.6 380.35V387.04M713.1 378V384.62M713.6 375.96V380.17M714.1 376.33V381.44M714.6 370.59V379.89M715.1 368.09V381.58M715.6 367.49V375.04M716.1 370.5V382.6M716.6 365.98V373.37M717.1 366.84V378.84M717.6 367.24V380.55M718.1 366.59V376.82M718.6 365.6V376.48M719.1 369.06V376.28M719.6 367.6V373.12M720.1 365.8V370.77M720.6 365.14V371.86M721.1 364.79V369.61M721.6 365.9V372.78M722.1 362.53V372.58M722.6 362.83V368.74M723.1 364.21V370.39M723.6 362.92V368.97M724.1 363.47V372.58M724.6 366.47V372.73M725.1 363.08V368.75M725.6 364.31V369.53M726.1 358.27V367.24M726.6 359.66V367.8M727.1 359.12V364.59M727.6 361.6V367.91M728.1 361.98V366.52M728.6 359.97V366.38M729.1 361.87V367.97M729.6 363.52V367.7M730.1 362.76V367.21M730.6 360.48V366.36M731.1 362.36V367.7M731.6 361.25V364.4M732.1 364.92V367.24M732.6 364.86V367.06M733.1 364.37V366.57M733.6 362.89V365.09M734.1 362.74V366.14M734.6 364.97V367.62M735.1 364.22V367.83M735.6 362.93V367.24M736.1 365.28V367.8M736.6 362.36V366.09M737.1 362.12V365.44M737.6 361.15V364.33M738.1 363.78V365.98M738.6 362.04V365.03M739.1 360.48V362.98M739.6 359.71V362.27M740.1 360.51V363.06M740.6 360.71V363.07M741.1 358.72V361.8M741.6 359.74V362.33M742.1 359V362.67M742.6 360.96V363.16M743.1 359.56V362.83M743.6 359.42V361.66M744.1 359.35V361.72M744.6 360.9V363.1M745.1 360.92V363.98M745.6 359.72V362.83M746.1 361.18V365.4M746.6 361.43V365.44M747.1 362.39V367.06M747.6 361.34V366.44M748.1 361.14V364.67M748.6 362.93V366.41M749.1 361.28V364.55M749.6 360.58V363.8M750.1 360.21V364.85M750.6 362.15V365.73M751.1 362.64V365.54M751.6 361.84V365.35M752.1 361.97V365.15M752.6 363.42V369.06M753.1 362.43V368.67M753.6 363.64V369.42M754.1 364.44V370.19M754.6 366.43V370.8M755.1 365.83V368.9M755.6 362.3V368.64M756.1 363.76V369.01M756.6 362.95V366.78M757.1 360.51V366.13M757.6 359.98V365.34M758.1 360.28V364.85M758.6 360.09V365.67M759.1 362.75V369M759.6 366.21V371.29M760.1 370.09V376.02M760.6 369.27V377.35M761.1 368.69V378.11M761.6 367.73V375.77M762.1 369.26V384.28M762.6 371.12V382.6M763.1 368.31V382.33M763.6 375.9V384.29M764.1 372.34V383.26M764.6 371.53V385.67M765.1 367.15V380.93M765.6 372.71V381.15M766.1 366.69V376.56M766.6 367.49V372.24M767.1 367.28V371.32M767.6 365.41V373.19M768.1 363.07V369.56M768.6 366.92V373.52M769.1 361.94V370.74M769.6 363.39V371.34M770.1 358.63V368.48M770.6 358.95V368.41M771.1 357.84V366.39M771.6 358.02V365.68M772.1 355.06V362.89M772.6 358.8V365.5M773.1 355.04V360.84M773.6 354.83V364.5M774.1 355.42V362.04M774.6 354.4V363.33M775.1 357.64V364.82M775.6 356.92V361.45M776.1 356.4V363.09M776.6 355.21V359.79M777.1 356.52V361.05M777.6 356.13V361.24M778.1 357.65V361.39M778.6 356.44V361M779.1 357.56V360.58M779.6 356.01V360.32M780.1 356.14V360.55M780.6 356.69V359.59M781.1 354.78V357.56M781.6 354.8V358.64M782.1 354.87V358.13M782.6 354.32V358.5M783.1 354.95V357.15M783.6 353.67V356.86M784.1 352.75V356.97M784.6 353.9V357.22M785.1 352.58V355.86M785.6 352.88V356.41M786.1 351.97V355.98M786.6 350.2V353.51M787.1 351.18V355.29M787.6 351.5V355.88M788.1 351.03V353.58M788.6 353.37V355.8M789.1 350.73V353.24M789.6 351.52V355.89M790.1 353.18V355.56M790.6 350.34V354.98M791.1 350.88V353.74M791.6 348.24V352.73M792.1 345.81V353.04M792.6 343.24V350.48M793.1 343.88V349.12M793.6 346.57V350.52M794.1 340.91V346.02M794.6 340.57V345.66M795.1 340.4V347.73M795.6 340.46V346M796.1 340.34V343.76M796.6 340.11V346.58M797.1 338.76V344.91M797.6 338.17V341.78M798.1 338.79V343.49M798.6 338.93V343.26M799.1 338.06V342.67M799.6 337.16V342.35M800.1 337.31V342.73M800.6 337.41V340.09M801.1 336.64V341.17M801.6 335.78V340.74M802.1 337.65V341.78M802.6 336.79V341.23M803.1 334.45V341.38M803.6 337.14V343.57M804.1 337.44V345.02M804.6 336.18V342.19M805.1 332.07V343.63M805.6 331.85V346.83M806.1 332.37V344.07M806.6 332.87V346.28M807.1 332.58V344.05M807.6 333.31V342.96M808.1 331.14V337.61M808.6 329.83V338.56M809.1 329.87V340.06M809.6 329.99V335.81M810.1 333.22V344.51M810.6 333.98V343.34M811.1 337.49V346.25M811.6 329.71V342.97M812.1 335.25V341.87M812.6 334.07V339.27M813.1 327.18V332.28M813.6 325.81V330.12M814.1 323.63V327.47M814.6 321.57V327.35M815.1 319.15V325.59M815.6 319.21V326.36" stroke="#1c1c1c" stroke-width="1.05" fill="none"/>
<path d="M0 436V449M2.5 437.5V446.4M5 441V458M6.6 456.6V465.5M9.5 451.5V459M12 446.4V455.3M14 435V446.4M15.9 418.5V431M19 414.6V426M21 403V416M23.3 395.6V410.8M25.4 410.8V423.5M26.7 413.4V424.8M28.6 398V410.8M30.5 398V404.5M33.7 402V409M36.9 402V407M40.7 398V403M44.5 396.9V402.6M47.7 389.2V398M50.8 391.8V396.9M53.4 390.5V396.9M55.5 377.8V391.8M57.2 384V395.6M59.7 389V410.8M62.3 390.5V409.6M64.2 403V416M65.8 410.8V433.7M68 409.6V418.5M71.2 404.5V416M74.3 409.6V417.2M78.2 405.7V419.7M81.3 410.8V417.2M85.1 413.4V419.7M89 413.4V421M92.1 407V421M95.3 413.4V435M99.1 414.6V421M102.7 400.7V416M104.8 402V426M107.4 428.6V442.6M109.5 431V466.7M111.8 427.4V441.3M113.1 412V428.6M115 414.6V438.8M117.5 431V443.9M120.7 438.8V446.4M124.4 440.3V447.7M128.9 444.8V452.2M133.3 450.7V461.8M136.3 444.8V455.1M140 436.6V446.2M143.7 444.8V458M146.6 409.2V455.1M148.9 424V463.3M151.1 416.6V449.2M153.3 404V422.6M155.5 402.6V418M157.7 412.2V434.4M160 412.2V441.8M162.9 421V431.4M165.9 421.8V432.9M169.6 430V438.8M173.3 430V440.3M176.2 435.9V444.8M178.9 431.4V447M181.4 417.4V430M185.1 418V427M188.4 415.9V427M191 417.4V427M192.5 422.6V438.8M194.7 435V462.5M197 435V467M199.2 452.2V481.8M201.4 451.4V481M203.6 456.6V484.7M205.8 478.8V502.5M208.8 489.2V501M211.8 502.5V514.3M214.7 505.4V515M217.7 504V512.8M220.3 502.5V514.3M222.8 515.2V532M226.2 527V547.4M229.6 528V540.6M233 522V533.8M235 516V528.8M236.9 528.8V550.7M238.6 547.4V576M240.3 567.7V593M242.3 582.9V608.2M244.3 594.7V615M246 601.5V626M248.2 594.7V618.4M249.9 584.6V611.6M251.6 586.3V603.2M253.8 582.9V591.3M255.8 571V584.6M259.2 571.9V579.5M262.6 571V577.8M266 568.5V576M268.5 572.7V584.6M270.2 579.5V594.7M272.7 588V599.8M276.1 584.6V598M278.6 586.3V601.5M280.8 588V611.6M282.9 581.2V604.9M284.6 559.2V584.6M286.6 544.8V567.7M288.8 555.8V571M291.3 559.2V582M294.7 560.9V572.7M298.1 564.3V575.3M301.5 557.5V572.7M304 550.7V564.3M307.4 544V552.4M310.8 548.2V555.8M314.2 548.2V560.9M315.9 559.2V584.6M317.9 571V617.5M320.1 588V608.2M322.6 579.5V604.9M324.3 588V626.9M326 601.5V655.5M328 584.6V625.2M329.9 564.3V594.7M331.9 549V567.7M334.5 538.9V554.1M335.8 524.5V550.7M337.8 530.4V549M340.4 527V544M342.9 518V533M345.1 515.2V528.8M348 518.6V530.4M351.2 520.4V532.2M355 517.4V528.9M358.4 510.8V523.8M361.1 510.4V522.3M364.5 522.3V537.5M367.1 520.6V532.4M369.6 516.4V530.7M371.3 529V571.3M373 559.5V615.3M374.2 576.4V620.4M376.4 561.2V606.8M378.9 571.3V598.4M381.4 571.3V596.7M383.1 539.2V583.2M384.8 529.9V576.4M387 532.4V552.7M389 532.4V554.4M391.6 552.7V576.4M394.1 559.5V571.3M397.5 551V566.3M400 547.7V561.2M401.7 540.9V556.1M404.3 547.7V576.4M406.8 557.8V584M408.5 547.7V574.7M410.2 532.4V561.2M412.5 505.4V535.8M415.2 491.3V521.4M416.6 510V560M418.1 518.9V581.5M419.9 500.2V529.8M422 489V518.8M424.1 478V493.4M426.9 472.2V493.3M429.5 488.2V498.5M432.1 495.1V505.3M435 492.6V503.6M438.4 485.4V496.8M440.5 487.5V501M442.3 491.8V507M444.8 492.5V506.2M448.1 485.8V498.5M450.7 494.2V512.8M452.6 508.6V534M454.9 507.8V524.7M457.4 498.5V508.6M460.2 490V503.6M462.1 461.2V495M465 462.9V490M468.4 460.3V484.9M471.2 466.3V490M473.9 461.2V479.8M475.6 434.1V443.4M477.7 432.4V439.2M481 430.7V434.1M485.3 430.7V435M489.5 431.6V435.8M492.5 432.4V439.2M496.3 428.2V434.1M499.6 424.8V430.7M502.2 425.7V435.8M504.4 402V429M506.4 395.2V424M508.1 418.9V442.6M510.6 437.5V459.5M511.8 442.6V476.4M514 442.6V457.8M516.6 444.3V456.1M519.1 430.7V447.7M521.6 424.8V437.5M523.3 435.8V471.3M525 461.2V484.9M527 451V464.6M529.2 442.6V452.7M531.8 435.8V444.3M535.2 435.8V447.7M536.9 434.1V446M539.4 442.6V455.3M541.9 444.3V451M544.5 434.1V447.7M546.2 420.6V435.8M549.5 418.9V429M551.7 413.8V435.8M554.6 410.4V424M557.1 408.8V420.6M559.5 403V419.2M561.9 394.6V406.6M564.2 390.1V399.2M566.6 392.2V401.1M569.4 392.8V399.7M572.4 386V394.2M574.8 393.5V399.7M577.6 397V403.8M580.3 395.6V402.4M582.4 394.2V401.1M584.4 405.2V414.7M587.2 409.3V418.2M589.9 407.9V416.1M592 402.4V412M594.7 398.3V405.2M596.3 401.1V414.7M598.1 414.7V432.5M600.2 424.3V451.7M602.2 427.1V438M604.3 425V433.9M607.7 425.7V442.1M609.7 421.6V431.2M612.5 419.5V425.7M616.6 418.8V422.3M620.7 418.2V421.6M624.8 419.5V423M628.2 420.2V425M631.6 418.2V421.6M635.7 416.1V420.2M638.5 415.4V419.5M640.5 409.3V414.7M643.3 406.5V412.7M646 407.9V412.7M648.7 408.6V414.7M650.8 413.4V427.7M652.9 406.5V420.2M655.6 403.8V409.3M658.6 401.7V406.5M661.7 405.2V410.6M664.1 409.3V419.5M666.5 403.8V412M668.9 401.7V407.9M672 403.8V410M674.1 407.9V416.1M675.8 412V425.7M677.8 391.5V416.1M679.5 388.7V398.3M681.2 377.8V391.5M682.8 368.3V385.5M685.2 380V388.2M688.3 386.1V392.3M692 390.5V395.8M695.5 392.3V398.5M698.5 394.8V401M700.5 396.5V402M704 394.4V399.9M707.4 393.1V399.9M710.1 387.6V395.8M712.8 379.4V387.6M715.3 365.7V383.5M717.6 365.7V382.1M720.4 360.2V372.5M723.8 361.6V374.6M726.5 356.8V368.4M729.3 358.8V368.4M732.7 362.3V367.1M736.1 363V368.4M739.5 358.2V364.3M743 358.8V363M747.1 360.2V367.1M750.5 360.2V365.7M753.9 363V371.8M756.6 360.2V368.4M758.3 358.2V365.7M760.1 364.3V376.6M762.1 367.1V386.2M764.9 367.1V386.2M766.9 365.7V375.3M769.6 358.8V372.5M773.1 353.4V368.4M775.8 354.7V364.3M779.2 356.1V361.6M782.6 353.4V358.8M786.7 350V356.1M790.2 350.6V356.8M793.6 339.7V350.6M797 338.3V346.5M800.4 336.3V343.1M803.2 332.8V342.4M805.6 331.5V351.3M808.6 329.4V341.1M811.7 328.7V348.6M813.8 324.6V330.1M815.8 315.7V326" stroke="#1c1c1c" stroke-width="1.1" fill="none"/>
<path d="M326 612V655.6M325.4 604V640M374.2 590V620.4M109.5 440V466.7M65.8 418V433.7M418.1 540V581.5" stroke="#1c1c1c" stroke-width="1.5" fill="none"/>
<line x1="55.7" y1="378" x2="251.3" y2="656.3" stroke="#ff3145" stroke-width="1.4" stroke-dasharray="27 9.2"/>
<text x="83.4" y="68.6" font-family="'Liberation Serif', serif" font-size="25.6" font-weight="bold" fill="#000" text-anchor="start"  letter-spacing="0.1" stroke="#000" stroke-width="0.4">5{0}</text>
<polygon points="107,33.6 118.3,44.9 95.7,44.9" fill="#000"/>
<text x="137.6" y="60.4" font-family="'Liberation Serif', serif" font-size="20" font-weight="bold" fill="#000" text-anchor="start"  letter-spacing="0.1" stroke="#000" stroke-width="0.4">5{-1}</text>
<text x="137.6" y="86.25" font-family="'Liberation Serif', serif" font-size="20" font-weight="bold" fill="#000" text-anchor="start"  letter-spacing="0.1" stroke="#000" stroke-width="0.4">3{-2}</text>
<text x="137.6" y="112.1" font-family="'Liberation Serif', serif" font-size="20" font-weight="bold" fill="#000" text-anchor="start"  letter-spacing="0.1" stroke="#000" stroke-width="0.4">3{-3}</text>
<text x="137.6" y="137.95" font-family="'Liberation Serif', serif" font-size="20" font-weight="bold" fill="#000" text-anchor="start"  letter-spacing="0.1" stroke="#000" stroke-width="0.4">5{-4}</text>
<text x="137.6" y="163.8" font-family="'Liberation Serif', serif" font-size="20" font-weight="bold" fill="#000" text-anchor="start"  letter-spacing="0.1" stroke="#000" stroke-width="0.4">5{-5}</text>
<text x="137.6" y="189.65" font-family="'Liberation Serif', serif" font-size="20" font-weight="bold" fill="#000" text-anchor="start"  letter-spacing="0.1" stroke="#000" stroke-width="0.4">1{-6}</text>
<polygon points="158.5,29.4 169.8,40.8 147.2,40.8" fill="#000"/>
<text x="815.4" y="127.1" font-family="'Liberation Serif', serif" font-size="20" font-weight="bold" fill="#000" text-anchor="start"  letter-spacing="0.1" stroke="#000" stroke-width="0.4">3{-7}</text>
<text x="815.4" y="152.8" font-family="'Liberation Serif', serif" font-size="20" font-weight="bold" fill="#000" text-anchor="start"  letter-spacing="0.1" stroke="#000" stroke-width="0.4">5{-8}</text>
<text x="815.4" y="178.5" font-family="'Liberation Serif', serif" font-size="20" font-weight="bold" fill="#000" text-anchor="start"  letter-spacing="0.1" stroke="#000" stroke-width="0.4">5{-9}</text>
<text x="815.4" y="204.2" font-family="'Liberation Serif', serif" font-size="20" font-weight="bold" fill="#000" text-anchor="start"  letter-spacing="0.1" stroke="#000" stroke-width="0.4">5{-10}</text>
<text x="815.4" y="229.9" font-family="'Liberation Serif', serif" font-size="20" font-weight="bold" fill="#000" text-anchor="start"  letter-spacing="0.1" stroke="#000" stroke-width="0.4">5{-11}</text>
<text x="815.4" y="255.6" font-family="'Liberation Serif', serif" font-size="20" font-weight="bold" fill="#000" text-anchor="start"  letter-spacing="0.1" stroke="#000" stroke-width="0.4">5{-12]</text>
<polygon points="842.4,96.9 853.7,108.2 831.1,108.2" fill="#000"/>
<text x="39.6" y="336.2" font-family="'Liberation Serif', serif" font-size="18" font-weight="normal" fill="#000" text-anchor="start"  letter-spacing="0.2" stroke="#000" stroke-width="0.2">11/11/2024</text>
<text x="40.4" y="353.7" font-family="'Liberation Serif', serif" font-size="20" font-weight="bold" fill="#000" text-anchor="start"  letter-spacing="0.1" stroke="#000" stroke-width="0.4">3{-11}</text>
<text x="126" y="397.2" font-family="'Liberation Serif', serif" font-size="18" font-weight="bold" fill="#000" text-anchor="start"  letter-spacing="0.1" stroke="#000" stroke-width="0.4">B{-12}</text>
<text x="83.6" y="497.5" font-family="'Liberation Serif', serif" font-size="18" font-weight="bold" fill="#000" text-anchor="start"  letter-spacing="0.1" stroke="#000" stroke-width="0.4">A{-12}</text>
<text x="316" y="463.6" font-family="'Liberation Serif', serif" font-size="18" font-weight="normal" fill="#000" text-anchor="start"  stroke="#000" stroke-width="0.2">11/20</text>
<text x="316.6" y="485.3" font-family="'Liberation Serif', serif" font-size="18" font-weight="normal" fill="#000" text-anchor="start"  stroke="#000" stroke-width="0.2">5957.75</text>
<text x="329" y="507.2" font-family="'Liberation Serif', serif" font-size="20" font-weight="bold" fill="#000" text-anchor="start"  letter-spacing="0.1" stroke="#000" stroke-width="0.4">1{-12}</text>
<text x="352" y="637.2" font-family="'Liberation Serif', serif" font-size="20" font-weight="bold" fill="#000" text-anchor="start"  letter-spacing="0.1" stroke="#000" stroke-width="0.4">2{-12}</text>
<text x="408.6" y="617.1" font-family="'Liberation Serif', serif" font-size="18" font-weight="normal" fill="#000" text-anchor="start"  stroke="#000" stroke-width="0.2">11/20</text>
<text x="409.2" y="638.6" font-family="'Liberation Serif', serif" font-size="18" font-weight="normal" fill="#000" text-anchor="start"  stroke="#000" stroke-width="0.2">5880</text>
<text x="300.2" y="675.2" font-family="'Liberation Serif', serif" font-size="18" font-weight="bold" fill="#000" text-anchor="start"  letter-spacing="0.1" stroke="#000" stroke-width="0.4">C{-12}</text>
<text x="299.2" y="693.6" font-family="'Liberation Serif', serif" font-size="20" font-weight="bold" fill="#000" text-anchor="start"  letter-spacing="0.1" stroke="#000" stroke-width="0.4">4{-11}</text>
<text x="301.4" y="712.6" font-family="'Liberation Serif', serif" font-size="18" font-weight="normal" fill="#000" text-anchor="start"  stroke="#000" stroke-width="0.2">11/19</text>
<text x="302" y="735" font-family="'Liberation Serif', serif" font-size="18" font-weight="normal" fill="#000" text-anchor="start"  stroke="#000" stroke-width="0.2">5855</text>
<text x="546.9" y="333.5" font-family="'Liberation Serif', serif" font-size="18" font-weight="normal" fill="#000" text-anchor="start"  stroke="#000" stroke-width="0.2">11/26</text>
<text x="547.5" y="355.3" font-family="'Liberation Serif', serif" font-size="18" font-weight="normal" fill="#000" text-anchor="start"  stroke="#000" stroke-width="0.2">6047</text>
<text x="547.4" y="374" font-family="'Liberation Serif', serif" font-size="20" font-weight="bold" fill="#000" text-anchor="start"  letter-spacing="0.1" stroke="#000" stroke-width="0.4">3{-12}</text>
<text x="658.6" y="353.9" font-family="'Liberation Serif', serif" font-size="18" font-weight="bold" fill="#000" text-anchor="start"  letter-spacing="0.1" stroke="#000" stroke-width="0.4">3{-13}</text>
<text x="689.2" y="426.1" font-family="'Liberation Serif', serif" font-size="18" font-weight="bold" fill="#000" text-anchor="start"  letter-spacing="0.1" stroke="#000" stroke-width="0.4">4{-13}</text>
<text x="696.3" y="451.9" font-family="'Liberation Serif', serif" font-size="18" font-weight="normal" fill="#000" text-anchor="start"  stroke="#000" stroke-width="0.2">12/1</text>
<text x="696.9" y="473.5" font-family="'Liberation Serif', serif" font-size="18" font-weight="normal" fill="#000" text-anchor="start"  stroke="#000" stroke-width="0.2">6036</text>
<text x="572.5" y="468.4" font-family="'Liberation Serif', serif" font-size="20" font-weight="bold" fill="#000" text-anchor="start"  letter-spacing="0.1" stroke="#000" stroke-width="0.4">4{-12}</text>
<text x="572.7" y="497.7" font-family="'Liberation Serif', serif" font-size="18" font-weight="normal" fill="#000" text-anchor="start"  stroke="#000" stroke-width="0.2">11/27</text>
<text x="573.3" y="518.3" font-family="'Liberation Serif', serif" font-size="18" font-weight="normal" fill="#000" text-anchor="start"  stroke="#000" stroke-width="0.2">6000.25</text>
<text x="816.4" y="366.8" font-family="'Liberation Serif', serif" font-size="18" font-weight="bold" fill="#000" text-anchor="start"  letter-spacing="0.1" stroke="#000" stroke-width="0.4">5{-13}</text>
<polygon points="841.3,338.2 852.6,348.8 830,348.8" fill="#000"/>
<path d="M813.9 278.4H909a5 5 0 0 1 5 5V300.6a5 5 0 0 1-5 5H826.4L816.2 316.2L820.2 305.6H813.9a5 5 0 0 1-5-5V283.4a5 5 0 0 1 5-5Z" fill="#dedede" stroke="#a6a6a6" stroke-width="1.1"/>
<text x="816.4" y="299.6" font-family="'Liberation Sans', sans-serif" font-size="17" font-weight="normal" fill="#1e1e1e" text-anchor="start"  letter-spacing="0.2">Hi: 6098.75</text>
<rect x="947.3" y="0" width="75.7" height="946" fill="#0b0b0b"/>
<rect x="946.7" y="0" width="1.2" height="917" fill="#3a3a3a"/>
<text x="950.6" y="23.9" font-family="'Liberation Sans', sans-serif" font-size="17" font-weight="normal" fill="#bcbcbc" text-anchor="start"  letter-spacing="0.3">6320.93</text>
<text x="950.6" y="99.02" font-family="'Liberation Sans', sans-serif" font-size="17" font-weight="normal" fill="#bcbcbc" text-anchor="start"  letter-spacing="0.3">6264.34</text>
<text x="950.6" y="174.14" font-family="'Liberation Sans', sans-serif" font-size="17" font-weight="normal" fill="#bcbcbc" text-anchor="start"  letter-spacing="0.3">6208.24</text>
<text x="950.6" y="249.26" font-family="'Liberation Sans', sans-serif" font-size="17" font-weight="normal" fill="#bcbcbc" text-anchor="start"  letter-spacing="0.3">6152.65</text>
<text x="950.6" y="399.5" font-family="'Liberation Sans', sans-serif" font-size="17" font-weight="normal" fill="#bcbcbc" text-anchor="start"  letter-spacing="0.3">6042.96</text>
<text x="950.6" y="474.62" font-family="'Liberation Sans', sans-serif" font-size="17" font-weight="normal" fill="#bcbcbc" text-anchor="start"  letter-spacing="0.3">5988.85</text>
<text x="950.6" y="549.74" font-family="'Liberation Sans', sans-serif" font-size="17" font-weight="normal" fill="#bcbcbc" text-anchor="start"  letter-spacing="0.3">5935.23</text>
<text x="950.6" y="624.86" font-family="'Liberation Sans', sans-serif" font-size="17" font-weight="normal" fill="#bcbcbc" text-anchor="start"  letter-spacing="0.3">5882.08</text>
<text x="950.6" y="699.98" font-family="'Liberation Sans', sans-serif" font-size="17" font-weight="normal" fill="#bcbcbc" text-anchor="start"  letter-spacing="0.3">5829.42</text>
<text x="950.6" y="775.1" font-family="'Liberation Sans', sans-serif" font-size="17" font-weight="normal" fill="#bcbcbc" text-anchor="start"  letter-spacing="0.3">5777.22</text>
<rect x="950.8" y="-8" width="80" height="23.4" rx="4" fill="#999"/>
<text x="954.6" y="9.8" font-family="'Liberation Sans', sans-serif" font-size="17" font-weight="normal" fill="#111" text-anchor="start"  letter-spacing="0.3">6332.64</text>
<rect x="951.2" y="308.6" width="80" height="20.8" rx="4" fill="#000" stroke="#8a8a8a" stroke-width="1.1"/>
<text x="954.6" y="325.3" font-family="'Liberation Sans', sans-serif" font-size="17" font-weight="normal" fill="#fff" text-anchor="start"  letter-spacing="0.3">6095.75</text>
<rect x="0" y="809.3" width="947.3" height="34.2" fill="#0b0b0b"/>
<rect x="0" y="811.6" width="947.3" height="0.9" fill="#3c3c3c"/>
<rect x="0" y="814.6" width="947.3" height="0.9" fill="#4a4a4a"/>
<rect x="0" y="842.4" width="947.3" height="1.1" fill="#3a3a3a"/>
<rect x="66.9" y="815" width="1.1" height="28" fill="#5a5a5a"/>
<rect x="121.7" y="815" width="1.1" height="28" fill="#5a5a5a"/>
<text x="-0.6" y="834.5" font-family="'Liberation Sans', sans-serif" font-size="17.3" font-weight="normal" fill="#f4f4f4" text-anchor="start"  letter-spacing="0.45">Volume</text>
<text x="72" y="834.5" font-family="'Liberation Sans', sans-serif" font-size="16.6" font-weight="normal" fill="#a8a8a8" text-anchor="start"  letter-spacing="0.3">3,822</text>
<path d="M11.7 916.4V915.64M12.2 916.4V910.84M12.7 916.4V901.54M13.2 916.4V895.62M13.7 916.4V892.71M14.2 916.4V899.77M14.7 916.4V899.69M15.2 916.4V903.22M15.7 916.4V901.79M16.2 916.4V904.79M16.7 916.4V902.94M17.2 916.4V905.46M17.7 916.4V908.75M18.2 916.4V906.69M18.7 916.4V909.1M19.2 916.4V908.9M19.7 916.4V910.39M20.2 916.4V907.8M20.7 916.4V908.12M21.2 916.4V905.88M21.7 916.4V907.99M22.2 916.4V907.47M22.7 916.4V908.45M23.2 916.4V907.73M23.7 916.4V909.03M24.2 916.4V910.13M24.7 916.4V903.16M25.2 916.4V883.43M25.7 916.4V904.62M26.2 916.4V912.93M5 916.4V915.77M5.5 916.4V914.37M6 916.4V913.4M6.5 916.4V914.37M7 916.4V915.77M1.5 916.4V915.65M2.18 916.4V915.82M9.69 916.4V915.67M7.8 916.4V915.21M56.7 916.4V915.61M57.2 916.4V912.6M57.7 916.4V905.37M58.2 916.4V895.59M58.7 916.4V891.46M59.2 916.4V897.4M59.7 916.4V902.9M60.2 916.4V903.12M60.7 916.4V902.66M61.2 916.4V902.33M61.7 916.4V903.78M62.2 916.4V905.69M62.7 916.4V907.18M63.2 916.4V905.17M63.7 916.4V909.26M64.2 916.4V906.06M64.7 916.4V910.04M65.2 916.4V909.15M65.7 916.4V906.79M66.2 916.4V908.1M66.7 916.4V911.09M67.2 916.4V906.65M67.7 916.4V910.74M68.2 916.4V910.63M68.7 916.4V908.29M69.2 916.4V910.55M69.7 916.4V910.83M70.2 916.4V902.49M70.7 916.4V887.66M71.2 916.4V906.72M71.7 916.4V914.22M39.07 916.4V915.49M42.92 916.4V914.84M42.12 916.4V915.27M32.17 916.4V915.7M50.69 916.4V914.9M33.44 916.4V915.63M49.77 916.4V915.09M30.25 916.4V915.68M30 916.4V914.93M39.01 916.4V915.44M52 916.4V915.86M29.67 916.4V915.64M36.38 916.4V915.62M33.28 916.4V915.24M101.7 916.4V915.67M102.2 916.4V912.42M102.7 916.4V903.18M103.2 916.4V897.26M103.7 916.4V893.45M104.2 916.4V898.92M104.7 916.4V899.53M105.2 916.4V904.96M105.7 916.4V903.77M106.2 916.4V905.8M106.7 916.4V905.07M107.2 916.4V906.75M107.7 916.4V903.94M108.2 916.4V905.74M108.7 916.4V906.41M109.2 916.4V909.49M109.7 916.4V910.29M110.2 916.4V910.52M110.7 916.4V905.11M111.2 916.4V906.6M111.7 916.4V905.24M112.2 916.4V910.94M112.7 916.4V907.55M113.2 916.4V908.59M113.7 916.4V907.4M114.2 916.4V909.79M114.7 916.4V906.38M115.2 916.4V900.57M115.7 916.4V883.7M116.2 916.4V905.39M116.7 916.4V912.51M93 916.4V915.56M93.5 916.4V913.69M94 916.4V912.4M94.5 916.4V913.69M95 916.4V915.56M80.54 916.4V915.13M79.08 916.4V914.89M90.55 916.4V915.15M76.28 916.4V914.94M88.85 916.4V915.03M77.25 916.4V915.27M83.45 916.4V915.48M84.55 916.4V915.23M97.61 916.4V915.2M73.87 916.4V914.93M80.77 916.4V915.47M80.59 916.4V915.26M88.25 916.4V914.98M97.52 916.4V915.07M145.7 916.4V915.32M146.2 916.4V910.7M146.7 916.4V901.4M147.2 916.4V888.1M147.7 916.4V882.48M148.2 916.4V889.89M148.7 916.4V898.42M149.2 916.4V894.73M149.7 916.4V899.58M150.2 916.4V897.71M150.7 916.4V897.8M151.2 916.4V900.53M151.7 916.4V903.09M152.2 916.4V902.31M152.7 916.4V904.08M153.2 916.4V907.64M153.7 916.4V906.49M154.2 916.4V908.4M154.7 916.4V909.7M155.2 916.4V907.58M155.7 916.4V905.67M156.2 916.4V905.81M156.7 916.4V906.84M157.2 916.4V905.66M157.7 916.4V909.68M158.2 916.4V910.42M158.7 916.4V909.04M159.2 916.4V900.09M159.7 916.4V882.71M160.2 916.4V905.05M160.7 916.4V913M130.86 916.4V915.55M121.88 916.4V914.82M131.94 916.4V915.82M142.88 916.4V914.94M142.62 916.4V915.12M128.86 916.4V915.56M123.12 916.4V915.88M140.17 916.4V915.4M143.06 916.4V914.99M137.53 916.4V915.75M142.48 916.4V915.21M132.09 916.4V915.21M126.67 916.4V915.01M118.78 916.4V915.15M190 916.4V915.19M190.5 916.4V910.75M191 916.4V900.56M191.5 916.4V886.07M192 916.4V878.41M192.5 916.4V885.28M193 916.4V893.16M193.5 916.4V893.11M194 916.4V892.78M194.5 916.4V894.11M195 916.4V900.38M195.5 916.4V897.76M196 916.4V900.83M196.5 916.4V899.95M197 916.4V906.41M197.5 916.4V905.12M198 916.4V903.01M198.5 916.4V903.85M199 916.4V903.01M199.5 916.4V906.65M200 916.4V905.54M200.5 916.4V908.78M201 916.4V905.48M201.5 916.4V905.07M202 916.4V906.43M202.5 916.4V906.16M203 916.4V909.47M203.5 916.4V905.5M204 916.4V896.35M204.5 916.4V881.27M205 916.4V905.15M205.5 916.4V912.2M179.67 916.4V914.9M165.75 916.4V915.52M185.85 916.4V915.42M173.69 916.4V915.05M175.33 916.4V915.87M166.96 916.4V915.83M167.2 916.4V915.71M179.29 916.4V915.03M184.35 916.4V915.74M174.57 916.4V915.1M166.16 916.4V915.14M163.41 916.4V915.36M163.32 916.4V915.81M182.24 916.4V915.32M235 916.4V914.91M235.5 916.4V908.13M236 916.4V896.81M236.5 916.4V878.88M237 916.4V869.41M237.5 916.4V877.91M238 916.4V882.29M238.5 916.4V890.75M239 916.4V885.18M239.5 916.4V890.77M240 916.4V892.92M240.5 916.4V894.22M241 916.4V893.58M241.5 916.4V899.25M242 916.4V899.99M242.5 916.4V902.51M243 916.4V903.42M243.5 916.4V901.83M244 916.4V907.66M244.5 916.4V903.69M245 916.4V905M245.5 916.4V900.65M246 916.4V901.23M246.5 916.4V906.82M247 916.4V905.4M247.5 916.4V908.31M248 916.4V906.16M248.5 916.4V903.54M249 916.4V891.89M249.5 916.4V873.47M250 916.4V902.65M250.5 916.4V913.03M225 916.4V915.56M225.5 916.4V913.69M226 916.4V912.4M226.5 916.4V913.69M227 916.4V915.56M216.93 916.4V914.88M229.63 916.4V915.04M232.41 916.4V915.69M227.09 916.4V915.14M224.63 916.4V915.51M216.89 916.4V915.78M214 916.4V915.76M219.73 916.4V915.62M227.86 916.4V915.32M221.64 916.4V915.49M222.25 916.4V915.32M228.85 916.4V915.68M216.59 916.4V915.2M219.23 916.4V914.96M281.7 916.4V915.51M282.2 916.4V910.53M282.7 916.4V902.5M283.2 916.4V891.23M283.7 916.4V889.33M284.2 916.4V899M284.7 916.4V900.71M285.2 916.4V897.95M285.7 916.4V902.74M286.2 916.4V903.72M286.7 916.4V902.25M287.2 916.4V903.75M287.7 916.4V906.47M288.2 916.4V907.35M288.7 916.4V911.22M289.2 916.4V910.32M289.7 916.4V907.88M290.2 916.4V906.86M290.7 916.4V906.76M291.2 916.4V911.24M291.7 916.4V909.44M292.2 916.4V908.38M292.7 916.4V909.76M293.2 916.4V909.07M293.7 916.4V911.46M294.2 916.4V907.64M294.7 916.4V889.44M295.2 916.4V906.06M295.7 916.4V913.74M269 916.4V915.77M269.5 916.4V914.37M270 916.4V913.4M270.5 916.4V914.37M271 916.4V915.77M266.31 916.4V915.27M275.89 916.4V915.7M274.4 916.4V914.98M253.95 916.4V914.88M277.22 916.4V915.83M254.96 916.4V915.39M259.82 916.4V915.54M267.56 916.4V915.33M268.52 916.4V915.24M279.36 916.4V915.13M257.75 916.4V915.7M267.9 916.4V915.09M269.16 916.4V915.69M275.41 916.4V915.34M324 916.4V915.22M324.5 916.4V909.01M325 916.4V900.08M325.5 916.4V885.61M326 916.4V879.48M326.5 916.4V888.28M327 916.4V888.72M327.5 916.4V896.11M328 916.4V893.9M328.5 916.4V895.02M329 916.4V896.13M329.5 916.4V898.97M330 916.4V900.17M330.5 916.4V901.97M331 916.4V909.04M331.5 916.4V907.18M332 916.4V906.43M332.5 916.4V909.85M333 916.4V907.59M333.5 916.4V905.83M334 916.4V906.14M334.5 916.4V908.9M335 916.4V904.5M335.5 916.4V906.49M336 916.4V908.71M336.5 916.4V906.95M337 916.4V907.69M337.5 916.4V900.57M338 916.4V883.7M338.5 916.4V905.39M339 916.4V912.66M314 916.4V914.72M314.5 916.4V910.99M315 916.4V908.4M315.5 916.4V910.99M316 916.4V914.72M303.77 916.4V915.06M296.52 916.4V915.87M306 916.4V915.09M315.33 916.4V915.46M320.69 916.4V915.69M312.23 916.4V915.79M315.48 916.4V914.9M307.7 916.4V915.34M296.85 916.4V915.28M296.13 916.4V915.2M300.95 916.4V915.82M306.46 916.4V915.06M320.83 916.4V914.88M317.84 916.4V915.38M370 916.4V915.03M370.5 916.4V909.7M371 916.4V897.43M371.5 916.4V880.62M372 916.4V873.5M372.5 916.4V883.72M373 916.4V890.99M373.5 916.4V890.07M374 916.4V890.49M374.5 916.4V897.87M375 916.4V899.07M375.5 916.4V895.74M376 916.4V896.73M376.5 916.4V901.71M377 916.4V899.88M377.5 916.4V900.55M378 916.4V908.12M378.5 916.4V901.45M379 916.4V905.56M379.5 916.4V905.39M380 916.4V901.77M380.5 916.4V907.6M381 916.4V905.7M381.5 916.4V902.91M382 916.4V904.73M382.5 916.4V906.75M383 916.4V903.49M383.5 916.4V900.57M384 916.4V883.7M384.5 916.4V905.39M385 916.4V912.11M359 916.4V915.98M359.5 916.4V915.05M360 916.4V914.4M360.5 916.4V915.05M361 916.4V915.98M356.15 916.4V915.68M366.65 916.4V915.32M364.77 916.4V915.41M350.63 916.4V915.4M361.18 916.4V915.26M357.09 916.4V915.04M354.2 916.4V914.8M343.23 916.4V915.09M361.8 916.4V915.77M344.79 916.4V915.04M351.75 916.4V915.5M360.94 916.4V915.15M353.31 916.4V915.25M351.54 916.4V915.07M415 916.4V914.56M415.5 916.4V907.79M416 916.4V889.47M416.5 916.4V868.13M417 916.4V858.53M417.5 916.4V872.32M418 916.4V877.71M418.5 916.4V881.12M419 916.4V888.67M419.5 916.4V885.69M420 916.4V889.78M420.5 916.4V893.44M421 916.4V891.12M421.5 916.4V895.51M422 916.4V904.28M422.5 916.4V896.58M423 916.4V899.03M423.5 916.4V897.75M424 916.4V904.13M424.5 916.4V902.12M425 916.4V904.14M425.5 916.4V898.74M426 916.4V903.52M426.5 916.4V900.99M427 916.4V898.09M427.5 916.4V904.73M428 916.4V902.94M428.5 916.4V901.47M429 916.4V889.64M429.5 916.4V907.39M430 916.4V911.57M402 916.4V915.56M402.5 916.4V913.69M403 916.4V912.4M403.5 916.4V913.69M404 916.4V915.56M410.48 916.4V914.94M410.96 916.4V915.81M398.33 916.4V915.37M395.18 916.4V915.57M392.84 916.4V915.82M407.46 916.4V915.17M410.88 916.4V915.57M394.15 916.4V915.14M405.64 916.4V915.74M403.7 916.4V915.1M403.47 916.4V915.77M394.56 916.4V915.27M389.12 916.4V914.87M389.25 916.4V915.42M460.7 916.4V915.03M461.2 916.4V909.03M461.7 916.4V893.69M462.2 916.4V876.42M462.7 916.4V876.2M463.2 916.4V889.54M463.7 916.4V891.32M464.2 916.4V892.92M464.7 916.4V893.33M465.2 916.4V895.44M465.7 916.4V897.22M466.2 916.4V897.99M466.7 916.4V900.63M467.2 916.4V908.33M467.7 916.4V904.33M468.2 916.4V904.34M468.7 916.4V904.4M469.2 916.4V901.5M469.7 916.4V904.26M470.2 916.4V903.38M470.7 916.4V909.15M471.2 916.4V905.83M471.7 916.4V904.38M472.2 916.4V909.52M472.7 916.4V908.85M473.2 916.4V886.8M473.7 916.4V904.04M474.2 916.4V913.61M450.7 916.4V915.35M451.2 916.4V913.02M451.7 916.4V911.4M452.2 916.4V913.02M452.7 916.4V915.35M442.21 916.4V915.74M439.31 916.4V915.19M452.32 916.4V915.66M438.8 916.4V915.33M438.82 916.4V915.47M449.92 916.4V914.83M441.22 916.4V915.36M444.73 916.4V915.11M440.29 916.4V914.89M448.02 916.4V914.99M441.36 916.4V914.96M437.75 916.4V914.98M435.6 916.4V914.85M442.05 916.4V915.32M504 916.4V914.65M504.5 916.4V905.96M505 916.4V892.14M505.5 916.4V870.63M506 916.4V861.52M506.5 916.4V874.6M507 916.4V884.91M507.5 916.4V885.85M508 916.4V890.4M508.5 916.4V891.68M509 916.4V887.4M509.5 916.4V895.9M510 916.4V893.68M510.5 916.4V895.79M511 916.4V905.03M511.5 916.4V904.41M512 916.4V904.27M512.5 916.4V904.31M513 916.4V899.58M513.5 916.4V901.14M514 916.4V905.11M514.5 916.4V905.71M515 916.4V905.02M515.5 916.4V906.26M516 916.4V901.15M516.5 916.4V905.45M517 916.4V903.64M517.5 916.4V897.69M518 916.4V877.75M518.5 916.4V903.39M519 916.4V909.97M522 916.4V915.56M522.5 916.4V913.69M523 916.4V912.4M523.5 916.4V913.69M524 916.4V915.56M478.23 916.4V915.52M487.77 916.4V914.85M489.45 916.4V915.66M500.71 916.4V914.86M481.16 916.4V915.48M488.28 916.4V915.33M494.86 916.4V914.81M484.9 916.4V915.64M501.72 916.4V915.38M492.34 916.4V915.02M483.45 916.4V915.23M497.91 916.4V915.73M493.63 916.4V915.61M479.4 916.4V915.33M549.3 916.4V915.45M549.8 916.4V909.26M550.3 916.4V903.9M550.8 916.4V892.45M551.3 916.4V886.41M551.8 916.4V891.83M552.3 916.4V894.62M552.8 916.4V900.84M553.3 916.4V897.99M553.8 916.4V900.56M554.3 916.4V899.22M554.8 916.4V901.03M555.3 916.4V902.63M555.8 916.4V903.39M556.3 916.4V909.23M556.8 916.4V904.21M557.3 916.4V908.67M557.8 916.4V906.55M558.3 916.4V906.84M558.8 916.4V909.41M559.3 916.4V905.24M559.8 916.4V908.71M560.3 916.4V908.87M560.8 916.4V910.43M561.3 916.4V909.2M561.8 916.4V908.41M562.3 916.4V907.18M562.8 916.4V909.34M563.3 916.4V896.9M563.8 916.4V882.25M564.3 916.4V905.46M564.8 916.4V913.27M537 916.4V915.98M537.5 916.4V915.05M538 916.4V914.4M538.5 916.4V915.05M539 916.4V915.98M522.16 916.4V914.99M530.3 916.4V915.89M537.49 916.4V915.12M541.13 916.4V915.28M535.39 916.4V915.89M521.52 916.4V915.02M541.93 916.4V915.22M539.75 916.4V915.49M533.27 916.4V915.57M538.53 916.4V915.47M529.97 916.4V915.62M542.1 916.4V915.1M538.74 916.4V914.86M532.67 916.4V915.1M595 916.4V915.54M595.5 916.4V910.84M596 916.4V902.99M596.5 916.4V892.13M597 916.4V890.3M597.5 916.4V899.72M598 916.4V897.6M598.5 916.4V903.01M599 916.4V903.65M599.5 916.4V903.48M600 916.4V902.38M600.5 916.4V905.29M601 916.4V905.55M601.5 916.4V906.93M602 916.4V909.44M602.5 916.4V909.86M603 916.4V909.57M603.5 916.4V911.71M604 916.4V909.91M604.5 916.4V908.6M605 916.4V907.44M605.5 916.4V908.52M606 916.4V909.28M606.5 916.4V909.68M607 916.4V912.37M607.5 916.4V907.64M608 916.4V889.44M608.5 916.4V906.06M609 916.4V914.61M583 916.4V915.98M583.5 916.4V915.05M584 916.4V914.4M584.5 916.4V915.05M585 916.4V915.98M583.18 916.4V915.34M572.5 916.4V914.99M577.1 916.4V915.73M573.07 916.4V914.91M578.75 916.4V915.51M579.99 916.4V915.74M574.45 916.4V914.81M579.58 916.4V915.11M571.28 916.4V915.68M568.43 916.4V915.21M587.85 916.4V915.81M586.64 916.4V915.27M574.88 916.4V915.54M568.84 916.4V915.5M674.4 916.4V915.7M674.9 916.4V910.44M675.4 916.4V898.09M675.9 916.4V896.12M676.4 916.4V902.04M676.9 916.4V904.71M677.4 916.4V902.97M677.9 916.4V904.88M678.4 916.4V906.56M678.9 916.4V908.8M679.4 916.4V905.27M679.9 916.4V909.49M680.4 916.4V907.75M680.9 916.4V906.55M681.4 916.4V910.37M681.9 916.4V908.64M682.4 916.4V911.3M682.9 916.4V911.69M683.4 916.4V901.53M683.9 916.4V894.04M684.4 916.4V912.67M655.28 916.4V915.56M654.95 916.4V915.09M662.48 916.4V915.25M651.5 916.4V915.88M667.21 916.4V915.39M668.68 916.4V915.47M657.59 916.4V915.71M658.89 916.4V915.61M657.63 916.4V915.53M655.72 916.4V915.86M654.95 916.4V915.74M647.46 916.4V915.24M660.18 916.4V915.45M656.18 916.4V915.14M713.7 916.4V915.67M714.2 916.4V910.12M714.7 916.4V905.08M715.2 916.4V896.48M715.7 916.4V893.69M716.2 916.4V900.47M716.7 916.4V899.81M717.2 916.4V902.71M717.7 916.4V901.97M718.2 916.4V906.55M718.7 916.4V904.15M719.2 916.4V904.92M719.7 916.4V904.99M720.2 916.4V906.25M720.7 916.4V909.53M721.2 916.4V907.57M721.7 916.4V907.39M722.2 916.4V908.22M722.7 916.4V910.49M723.2 916.4V906.76M723.7 916.4V907.95M724.2 916.4V909.77M724.7 916.4V909.54M725.2 916.4V909.2M725.7 916.4V910.21M726.2 916.4V911.23M726.7 916.4V903.16M727.2 916.4V883.43M727.7 916.4V904.62M728.2 916.4V912.59M689 916.4V915.98M689.5 916.4V915.05M690 916.4V914.4M690.5 916.4V915.05M691 916.4V915.98M700.74 916.4V915.01M705.93 916.4V915.08M696.96 916.4V914.91M709.14 916.4V915.03M708.48 916.4V915.31M686.97 916.4V915.9M705.36 916.4V915.57M703.26 916.4V915.83M688.43 916.4V915M701.37 916.4V915.51M696.48 916.4V915.85M710.89 916.4V914.91M703.7 916.4V915.35M687.42 916.4V914.82M758.4 916.4V915.8M758.9 916.4V912.68M759.4 916.4V907.5M759.9 916.4V900.59M760.4 916.4V897.44M760.9 916.4V901.96M761.4 916.4V905.66M761.9 916.4V903.02M762.4 916.4V905.27M762.9 916.4V905.19M763.4 916.4V908.54M763.9 916.4V905.93M764.4 916.4V905.02M764.9 916.4V906.37M765.4 916.4V906.65M765.9 916.4V905.38M766.4 916.4V908.46M766.9 916.4V910.7M767.4 916.4V910M767.9 916.4V909.66M768.4 916.4V907.61M768.9 916.4V910.51M769.4 916.4V910.71M769.9 916.4V910.55M770.4 916.4V908.54M770.9 916.4V908.1M771.4 916.4V910.27M771.9 916.4V902.01M772.4 916.4V886.67M772.9 916.4V906.39M773.4 916.4V914.17M749 916.4V915.98M749.5 916.4V915.05M750 916.4V914.4M750.5 916.4V915.05M751 916.4V915.98M748.58 916.4V914.88M739.06 916.4V915.6M739.76 916.4V915.8M730.84 916.4V915.42M742.66 916.4V915.32M755.22 916.4V915.24M749 916.4V915.62M735.52 916.4V915.8M748.99 916.4V915.07M750.01 916.4V915.59M742.15 916.4V915.7M733.08 916.4V914.81M755.53 916.4V915.39M736.88 916.4V915.48M801.8 916.4V915.64M802.3 916.4V912.38M802.8 916.4V904.48M803.3 916.4V894.83M803.8 916.4V893.2M804.3 916.4V898.85M804.8 916.4V901.44M805.3 916.4V901.58M805.8 916.4V901.45M806.3 916.4V903.36M806.8 916.4V905.13M807.3 916.4V906.77M807.8 916.4V906.7M808.3 916.4V908.13M808.8 916.4V910.92M809.3 916.4V909.85M809.8 916.4V911.2M810.3 916.4V909.7M810.8 916.4V910.2M811.3 916.4V912.32M811.8 916.4V910.05M812.3 916.4V909.7M812.8 916.4V910.43M813.3 916.4V909.39M813.8 916.4V912.2M814.3 916.4V911.86M814.8 916.4V902.42M815.3 916.4V911.04M815.8 916.4V914.3M794 916.4V915.98M794.5 916.4V915.05M795 916.4V914.4M795.5 916.4V915.05M796 916.4V915.98M788.32 916.4V915.61M779.04 916.4V915.82M776.21 916.4V915.27M785.68 916.4V915.03M793.61 916.4V915.74M791.71 916.4V915.85M791.63 916.4V915.22M786.14 916.4V915.61M784.49 916.4V915.8M778.47 916.4V915.71M793.17 916.4V915.72M781.84 916.4V914.99M779.35 916.4V915.83M789.12 916.4V915.5" stroke="#b0b0b0" stroke-width="0.85" fill="none"/>
<rect x="0" y="916.4" width="1023" height="29.6" fill="#0b0b0b"/>
<rect x="0" y="916.2" width="947.3" height="1" fill="#2e2e2e"/>
<text x="950.6" y="883.6" font-family="'Liberation Sans', sans-serif" font-size="17" font-weight="normal" fill="#bcbcbc" text-anchor="start"  letter-spacing="0.3">200</text>
<clipPath id="c0"><rect x="947.3" y="900" width="70" height="17.4"/></clipPath>
<text x="950.6" y="925.2" font-family="'Liberation Sans', sans-serif" font-size="17" font-weight="normal" fill="#bcbcbc" text-anchor="start" clip-path="url(#c0)" letter-spacing="0.3">0</text>
<text x="251.73" y="936.9" font-family="'Liberation Sans', sans-serif" font-size="17" font-weight="normal" fill="#bcbcbc" text-anchor="start"  letter-spacing="0.95">11/18</text>
<text x="474.7" y="936.9" font-family="'Liberation Sans', sans-serif" font-size="17" font-weight="normal" fill="#bcbcbc" text-anchor="start"  letter-spacing="0.95">11/25</text>
<text x="684.73" y="936.9" font-family="'Liberation Sans', sans-serif" font-size="17" font-weight="normal" fill="#bcbcbc" text-anchor="start"  letter-spacing="0.95">12/2</text>
<text x="912.73" y="936.9" font-family="'Liberation Sans', sans-serif" font-size="17" font-weight="normal" fill="#bcbcbc" text-anchor="start"  letter-spacing="0.95">12/9</text>
<text x="54.4" y="936.9" font-family="'Liberation Sans', sans-serif" font-size="16.4" font-weight="normal" fill="#bcbcbc" text-anchor="start"  letter-spacing="-0.5">11</text>
<text x="48.2" y="936.9" font-family="'Liberation Sans', sans-serif" font-size="17" font-weight="normal" fill="#bcbcbc" text-anchor="start"  letter-spacing="0.3">/</text>
<rect x="0.9" y="918.2" width="48" height="22.2" rx="4.5" fill="#9a9a9a"/>
<text x="3.6" y="935.4" font-family="'Liberation Sans', sans-serif" font-size="17" font-weight="normal" fill="#111" text-anchor="start"  letter-spacing="0.1">23:20</text>
<rect x="1019.6" y="899.6" width="4" height="1.3" fill="#8a8a8a"/>
<rect x="1021.2" y="895" width="1.3" height="13" fill="#8a8a8a"/>
<rect x="1020.2" y="904.4" width="3" height="1.3" fill="#8a8a8a"/></svg>
</body></html>
